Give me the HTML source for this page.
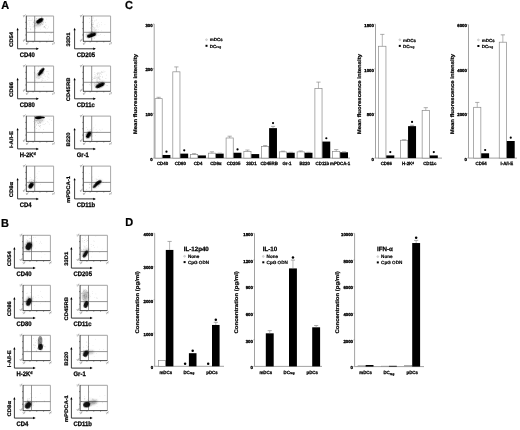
<!DOCTYPE html>
<html><head><meta charset="utf-8"><title>Figure</title>
<style>
html,body{margin:0;padding:0;background:#fff;width:520px;height:430px;overflow:hidden}
svg{display:block;will-change:transform;text-rendering:geometricPrecision;font-family:"Liberation Sans",sans-serif;font-weight:bold}
</style></head><body>
<svg width="520" height="430" viewBox="0 0 520 430">
<defs><filter id="b0_35" x="-50%" y="-50%" width="200%" height="200%"><feGaussianBlur stdDeviation="0.35"/></filter><filter id="b0_45" x="-50%" y="-50%" width="200%" height="200%"><feGaussianBlur stdDeviation="0.45"/></filter><filter id="b0_5" x="-50%" y="-50%" width="200%" height="200%"><feGaussianBlur stdDeviation="0.5"/></filter><filter id="b0_8" x="-50%" y="-50%" width="200%" height="200%"><feGaussianBlur stdDeviation="0.8"/></filter><filter id="b1_0" x="-50%" y="-50%" width="200%" height="200%"><feGaussianBlur stdDeviation="1.0"/></filter><filter id="b1_2" x="-50%" y="-50%" width="200%" height="200%"><feGaussianBlur stdDeviation="1.2"/></filter></defs>
<rect width="520" height="430" fill="#fff"/>
<text x="0" y="0" font-size="11.5" text-anchor="start" fill="#000" stroke="#000" stroke-width="0.23" transform="translate(1.2 9.2) scale(0.95 1)">A</text>
<text x="0" y="0" font-size="11.5" text-anchor="start" fill="#000" stroke="#000" stroke-width="0.23" transform="translate(0.9 227.1) scale(0.95 1)">B</text>
<text x="0" y="0" font-size="11.5" text-anchor="start" fill="#000" stroke="#000" stroke-width="0.23" transform="translate(125 8.6) scale(0.95 1)">C</text>
<text x="0" y="0" font-size="11.5" text-anchor="start" fill="#000" stroke="#000" stroke-width="0.23" transform="translate(125.2 226.4) scale(0.95 1)">D</text>
<line x1="26.3" y1="16" x2="53.6" y2="16" stroke="#8c8c8c" stroke-width="0.8"/>
<line x1="53.6" y1="16" x2="53.6" y2="41.3" stroke="#a8a8a8" stroke-width="1"/>
<line x1="26.3" y1="15.7" x2="26.3" y2="41.3" stroke="#333" stroke-width="0.9"/>
<line x1="26" y1="41.3" x2="53.6" y2="41.3" stroke="#333" stroke-width="0.9"/>
<line x1="25.3" y1="22.32" x2="26.3" y2="22.32" stroke="#444" stroke-width="0.7"/>
<line x1="33.12" y1="41.3" x2="33.12" y2="42.3" stroke="#444" stroke-width="0.7"/>
<line x1="25.3" y1="28.65" x2="26.3" y2="28.65" stroke="#444" stroke-width="0.7"/>
<line x1="39.95" y1="41.3" x2="39.95" y2="42.3" stroke="#444" stroke-width="0.7"/>
<line x1="25.3" y1="34.98" x2="26.3" y2="34.98" stroke="#444" stroke-width="0.7"/>
<line x1="46.78" y1="41.3" x2="46.78" y2="42.3" stroke="#444" stroke-width="0.7"/>
<line x1="34.7" y1="16" x2="34.7" y2="41.3" stroke="#666" stroke-width="0.7"/>
<line x1="26.3" y1="32.3" x2="53.6" y2="32.3" stroke="#666" stroke-width="0.7"/>
<text x="22.9" y="17.2" font-size="2.3" fill="#444" font-weight="normal" transform="rotate(-20 22.9 17.2)">10<tspan font-size="1.6" dy="-1">4</tspan></text>
<text x="22.9" y="41.8" font-size="2.3" fill="#444" font-weight="normal" transform="rotate(-20 22.9 41.8)">10<tspan font-size="1.6" dy="-1">0</tspan></text>
<text x="25.9" y="45" font-size="2.3" fill="#444" font-weight="normal" transform="rotate(-20 25.9 45)">10<tspan font-size="1.6" dy="-1">0</tspan></text>
<text x="52.2" y="45" font-size="2.3" fill="#444" font-weight="normal" transform="rotate(-20 52.2 45)">10<tspan font-size="1.6" dy="-1">4</tspan></text>
<circle cx="36.01" cy="20.81" r="0.33" fill="#000" opacity="0.35"/>
<circle cx="32.79" cy="19" r="0.33" fill="#000" opacity="0.35"/>
<circle cx="41.45" cy="21.77" r="0.33" fill="#000" opacity="0.35"/>
<circle cx="39.94" cy="24.95" r="0.33" fill="#000" opacity="0.35"/>
<circle cx="45.97" cy="25.08" r="0.33" fill="#000" opacity="0.35"/>
<circle cx="39.6" cy="18.67" r="0.33" fill="#000" opacity="0.35"/>
<circle cx="34.54" cy="20.63" r="0.33" fill="#000" opacity="0.35"/>
<circle cx="40.4" cy="21.57" r="0.33" fill="#000" opacity="0.35"/>
<circle cx="39.01" cy="21.89" r="0.33" fill="#000" opacity="0.35"/>
<circle cx="35.75" cy="23.67" r="0.33" fill="#000" opacity="0.35"/>
<circle cx="38.46" cy="24.38" r="0.33" fill="#000" opacity="0.35"/>
<circle cx="41.23" cy="23.47" r="0.33" fill="#000" opacity="0.35"/>
<circle cx="45.64" cy="28.05" r="0.33" fill="#000" opacity="0.35"/>
<circle cx="40.54" cy="24.81" r="0.33" fill="#000" opacity="0.35"/>
<circle cx="33.2" cy="21.91" r="0.33" fill="#000" opacity="0.35"/>
<circle cx="41.88" cy="16.7" r="0.33" fill="#000" opacity="0.35"/>
<circle cx="46" cy="24.97" r="0.33" fill="#000" opacity="0.35"/>
<circle cx="36.18" cy="18.92" r="0.33" fill="#000" opacity="0.35"/>
<circle cx="44.78" cy="26.98" r="0.33" fill="#000" opacity="0.35"/>
<circle cx="37.81" cy="24.44" r="0.33" fill="#000" opacity="0.35"/>
<circle cx="44.15" cy="26.27" r="0.33" fill="#000" opacity="0.35"/>
<circle cx="36.02" cy="25.59" r="0.33" fill="#000" opacity="0.35"/>
<circle cx="39.27" cy="21.23" r="0.33" fill="#000" opacity="0.35"/>
<circle cx="38.08" cy="23.11" r="0.33" fill="#000" opacity="0.35"/>
<circle cx="42.66" cy="24.41" r="0.33" fill="#000" opacity="0.35"/>
<circle cx="43.98" cy="27.16" r="0.33" fill="#000" opacity="0.35"/>
<circle cx="43.02" cy="23.98" r="0.33" fill="#000" opacity="0.35"/>
<circle cx="43.25" cy="22.79" r="0.33" fill="#000" opacity="0.35"/>
<circle cx="38.88" cy="20.69" r="0.33" fill="#000" opacity="0.35"/>
<circle cx="38.47" cy="23.24" r="0.33" fill="#000" opacity="0.35"/>
<circle cx="34.33" cy="25.44" r="0.33" fill="#000" opacity="0.35"/>
<circle cx="39.94" cy="19.81" r="0.33" fill="#000" opacity="0.35"/>
<circle cx="44.1" cy="26.8" r="0.33" fill="#000" opacity="0.35"/>
<circle cx="28.41" cy="20.59" r="0.33" fill="#000" opacity="0.35"/>
<circle cx="35.3" cy="28.51" r="0.33" fill="#000" opacity="0.35"/>
<circle cx="40.47" cy="22.82" r="0.33" fill="#000" opacity="0.35"/>
<circle cx="39.82" cy="18.45" r="0.33" fill="#000" opacity="0.35"/>
<circle cx="36.64" cy="18.41" r="0.33" fill="#000" opacity="0.35"/>
<circle cx="39.5" cy="21.25" r="0.33" fill="#000" opacity="0.35"/>
<circle cx="45.67" cy="22.4" r="0.33" fill="#000" opacity="0.35"/>
<circle cx="31.53" cy="20.17" r="0.33" fill="#000" opacity="0.25"/>
<circle cx="32.27" cy="24.16" r="0.33" fill="#000" opacity="0.25"/>
<circle cx="34.78" cy="26.93" r="0.33" fill="#000" opacity="0.25"/>
<circle cx="30.91" cy="29.81" r="0.33" fill="#000" opacity="0.25"/>
<circle cx="30.48" cy="28.63" r="0.33" fill="#000" opacity="0.25"/>
<circle cx="29.34" cy="26.11" r="0.33" fill="#000" opacity="0.25"/>
<circle cx="29.11" cy="24.09" r="0.33" fill="#000" opacity="0.25"/>
<circle cx="30.54" cy="26.52" r="0.33" fill="#000" opacity="0.25"/>
<circle cx="28.16" cy="28.29" r="0.33" fill="#000" opacity="0.25"/>
<circle cx="34.77" cy="26.78" r="0.33" fill="#000" opacity="0.25"/>
<circle cx="30.65" cy="29.38" r="0.33" fill="#000" opacity="0.25"/>
<circle cx="36.12" cy="22.53" r="0.33" fill="#000" opacity="0.25"/>
<circle cx="30.58" cy="20.51" r="0.33" fill="#000" opacity="0.25"/>
<circle cx="33.89" cy="32.01" r="0.33" fill="#000" opacity="0.25"/>
<circle cx="33.23" cy="26.06" r="0.33" fill="#000" opacity="0.25"/>
<circle cx="33.24" cy="22.25" r="0.33" fill="#000" opacity="0.25"/>
<circle cx="33.72" cy="26.93" r="0.33" fill="#000" opacity="0.25"/>
<circle cx="29.41" cy="20.34" r="0.33" fill="#000" opacity="0.25"/>
<circle cx="29.26" cy="22.87" r="0.33" fill="#000" opacity="0.25"/>
<circle cx="29.26" cy="18.63" r="0.33" fill="#000" opacity="0.25"/>
<circle cx="32.08" cy="26.9" r="0.33" fill="#000" opacity="0.25"/>
<circle cx="27.75" cy="23.93" r="0.33" fill="#000" opacity="0.25"/>
<circle cx="33.03" cy="20.21" r="0.33" fill="#000" opacity="0.25"/>
<circle cx="33.61" cy="22.16" r="0.33" fill="#000" opacity="0.25"/>
<circle cx="47.69" cy="28.77" r="0.33" fill="#000" opacity="0.25"/>
<circle cx="46.87" cy="29.01" r="0.33" fill="#000" opacity="0.25"/>
<circle cx="44.9" cy="32.55" r="0.33" fill="#000" opacity="0.25"/>
<circle cx="44.57" cy="26.3" r="0.33" fill="#000" opacity="0.25"/>
<circle cx="40.44" cy="28.98" r="0.33" fill="#000" opacity="0.25"/>
<circle cx="45.39" cy="27.39" r="0.33" fill="#000" opacity="0.25"/>
<circle cx="49.42" cy="35.25" r="0.33" fill="#000" opacity="0.25"/>
<circle cx="48.72" cy="39" r="0.33" fill="#000" opacity="0.25"/>
<circle cx="45.5" cy="33.79" r="0.33" fill="#000" opacity="0.25"/>
<circle cx="51.48" cy="32.94" r="0.33" fill="#000" opacity="0.25"/>
<circle cx="50.95" cy="33.58" r="0.33" fill="#000" opacity="0.25"/>
<circle cx="46.75" cy="19.1" r="0.33" fill="#000" opacity="0.25"/>
<circle cx="48.55" cy="26.93" r="0.33" fill="#000" opacity="0.25"/>
<ellipse cx="38.8" cy="23" rx="5" ry="3" transform="rotate(-35 38.8 23)" fill="#000" opacity="0.22" filter="url(#b1_0)"/>
<ellipse cx="39.7" cy="20.7" rx="4.03" ry="2.02" transform="rotate(-32 39.7 20.7)" fill="#000" opacity="1" filter="url(#b0_35)"/>
<line x1="17.6" y1="29.2" x2="17.6" y2="48.8" stroke="#111" stroke-width="0.8"/>
<line x1="17.6" y1="48.8" x2="37.3" y2="48.8" stroke="#111" stroke-width="0.85"/>
<path d="M16.5 30.2 L17.6 27.8 L18.7 30.2 Z" fill="#000"/>
<path d="M36.3 47.55 L38.9 48.8 L36.3 50.05 Z" fill="#000"/>
<text x="0" y="0" font-size="5.9" text-anchor="middle" fill="#000" stroke="#000" stroke-width="0.24" transform="translate(12.2 39.4) rotate(-90) scale(1 0.88)" dominant-baseline="central">CD54</text>
<text x="0" y="0" font-size="6.6" text-anchor="start" fill="#000" stroke="#000" stroke-width="0.26" transform="translate(19.7 56.7) scale(0.9 1)">CD40</text>
<line x1="23.1" y1="235.3" x2="50.4" y2="235.3" stroke="#8c8c8c" stroke-width="0.8"/>
<line x1="50.4" y1="235.3" x2="50.4" y2="260.6" stroke="#a8a8a8" stroke-width="1"/>
<line x1="23.1" y1="235" x2="23.1" y2="260.6" stroke="#333" stroke-width="0.9"/>
<line x1="22.8" y1="260.6" x2="50.4" y2="260.6" stroke="#333" stroke-width="0.9"/>
<line x1="22.1" y1="241.62" x2="23.1" y2="241.62" stroke="#444" stroke-width="0.7"/>
<line x1="29.93" y1="260.6" x2="29.93" y2="261.6" stroke="#444" stroke-width="0.7"/>
<line x1="22.1" y1="247.95" x2="23.1" y2="247.95" stroke="#444" stroke-width="0.7"/>
<line x1="36.75" y1="260.6" x2="36.75" y2="261.6" stroke="#444" stroke-width="0.7"/>
<line x1="22.1" y1="254.28" x2="23.1" y2="254.28" stroke="#444" stroke-width="0.7"/>
<line x1="43.58" y1="260.6" x2="43.58" y2="261.6" stroke="#444" stroke-width="0.7"/>
<line x1="31.5" y1="235.3" x2="31.5" y2="260.6" stroke="#666" stroke-width="0.7"/>
<line x1="23.1" y1="251.6" x2="50.4" y2="251.6" stroke="#666" stroke-width="0.7"/>
<text x="19.7" y="236.5" font-size="2.3" fill="#444" font-weight="normal" transform="rotate(-20 19.7 236.5)">10<tspan font-size="1.6" dy="-1">4</tspan></text>
<text x="19.7" y="261.1" font-size="2.3" fill="#444" font-weight="normal" transform="rotate(-20 19.7 261.1)">10<tspan font-size="1.6" dy="-1">0</tspan></text>
<text x="22.7" y="264.3" font-size="2.3" fill="#444" font-weight="normal" transform="rotate(-20 22.7 264.3)">10<tspan font-size="1.6" dy="-1">0</tspan></text>
<text x="49" y="264.3" font-size="2.3" fill="#444" font-weight="normal" transform="rotate(-20 49 264.3)">10<tspan font-size="1.6" dy="-1">4</tspan></text>
<circle cx="29.65" cy="251.98" r="0.33" fill="#000" opacity="0.3"/>
<circle cx="28.15" cy="243.07" r="0.33" fill="#000" opacity="0.3"/>
<circle cx="26.67" cy="242.82" r="0.33" fill="#000" opacity="0.3"/>
<circle cx="27.55" cy="240.83" r="0.33" fill="#000" opacity="0.3"/>
<circle cx="29.73" cy="238.58" r="0.33" fill="#000" opacity="0.3"/>
<circle cx="27.84" cy="244.05" r="0.33" fill="#000" opacity="0.3"/>
<circle cx="26.62" cy="245.99" r="0.33" fill="#000" opacity="0.3"/>
<circle cx="27.99" cy="245.44" r="0.33" fill="#000" opacity="0.3"/>
<circle cx="27.78" cy="240.54" r="0.33" fill="#000" opacity="0.3"/>
<circle cx="30.53" cy="238.44" r="0.33" fill="#000" opacity="0.3"/>
<circle cx="27.96" cy="243.28" r="0.33" fill="#000" opacity="0.3"/>
<circle cx="27.83" cy="241.94" r="0.33" fill="#000" opacity="0.3"/>
<circle cx="30.31" cy="247.12" r="0.33" fill="#000" opacity="0.3"/>
<circle cx="27.47" cy="242.11" r="0.33" fill="#000" opacity="0.3"/>
<circle cx="25.01" cy="246.84" r="0.33" fill="#000" opacity="0.3"/>
<circle cx="31.97" cy="239.01" r="0.33" fill="#000" opacity="0.3"/>
<circle cx="27.14" cy="243.45" r="0.33" fill="#000" opacity="0.3"/>
<circle cx="27.65" cy="235.91" r="0.33" fill="#000" opacity="0.3"/>
<circle cx="25.19" cy="244.22" r="0.33" fill="#000" opacity="0.3"/>
<circle cx="28.73" cy="248.25" r="0.33" fill="#000" opacity="0.3"/>
<circle cx="26.82" cy="239.79" r="0.33" fill="#000" opacity="0.3"/>
<circle cx="33.16" cy="237.61" r="0.33" fill="#000" opacity="0.3"/>
<circle cx="31.08" cy="242.89" r="0.33" fill="#000" opacity="0.3"/>
<circle cx="26.02" cy="240.93" r="0.33" fill="#000" opacity="0.3"/>
<circle cx="35.11" cy="237.37" r="0.33" fill="#000" opacity="0.2"/>
<circle cx="40.63" cy="241.13" r="0.33" fill="#000" opacity="0.2"/>
<circle cx="35.83" cy="248.05" r="0.33" fill="#000" opacity="0.2"/>
<circle cx="36.68" cy="241.38" r="0.33" fill="#000" opacity="0.2"/>
<circle cx="29.68" cy="251.74" r="0.33" fill="#000" opacity="0.2"/>
<circle cx="32.42" cy="242.47" r="0.33" fill="#000" opacity="0.2"/>
<circle cx="39.31" cy="243.3" r="0.33" fill="#000" opacity="0.2"/>
<circle cx="40.81" cy="242.76" r="0.33" fill="#000" opacity="0.2"/>
<circle cx="41.79" cy="243.55" r="0.33" fill="#000" opacity="0.2"/>
<circle cx="44.94" cy="254.73" r="0.33" fill="#000" opacity="0.2"/>
<circle cx="41.76" cy="257.11" r="0.33" fill="#000" opacity="0.2"/>
<circle cx="41.75" cy="252.44" r="0.33" fill="#000" opacity="0.2"/>
<ellipse cx="28.8" cy="245.8" rx="3.6" ry="4.8" transform="rotate(25 28.8 245.8)" fill="#000" opacity="0.3" filter="url(#b1_0)"/>
<ellipse cx="28.8" cy="246.3" rx="2.91" ry="4.03" transform="rotate(25 28.8 246.3)" fill="#000" opacity="0.92" filter="url(#b0_45)"/>
<line x1="14.4" y1="248.5" x2="14.4" y2="268.1" stroke="#111" stroke-width="0.8"/>
<line x1="14.4" y1="268.1" x2="34.1" y2="268.1" stroke="#111" stroke-width="0.85"/>
<path d="M13.3 249.5 L14.4 247.1 L15.5 249.5 Z" fill="#000"/>
<path d="M33.1 266.85 L35.7 268.1 L33.1 269.35 Z" fill="#000"/>
<text x="0" y="0" font-size="5.9" text-anchor="middle" fill="#000" stroke="#000" stroke-width="0.24" transform="translate(9.9 258.7) rotate(-90) scale(1 0.88)" dominant-baseline="central">CD54</text>
<text x="0" y="0" font-size="6.6" text-anchor="start" fill="#000" stroke="#000" stroke-width="0.26" transform="translate(16.5 276) scale(0.9 1)">CD40</text>
<line x1="83.3" y1="16" x2="110.6" y2="16" stroke="#8c8c8c" stroke-width="0.8"/>
<line x1="110.6" y1="16" x2="110.6" y2="41.3" stroke="#a8a8a8" stroke-width="1"/>
<line x1="83.3" y1="15.7" x2="83.3" y2="41.3" stroke="#333" stroke-width="0.9"/>
<line x1="83" y1="41.3" x2="110.6" y2="41.3" stroke="#333" stroke-width="0.9"/>
<line x1="82.3" y1="22.32" x2="83.3" y2="22.32" stroke="#444" stroke-width="0.7"/>
<line x1="90.12" y1="41.3" x2="90.12" y2="42.3" stroke="#444" stroke-width="0.7"/>
<line x1="82.3" y1="28.65" x2="83.3" y2="28.65" stroke="#444" stroke-width="0.7"/>
<line x1="96.95" y1="41.3" x2="96.95" y2="42.3" stroke="#444" stroke-width="0.7"/>
<line x1="82.3" y1="34.98" x2="83.3" y2="34.98" stroke="#444" stroke-width="0.7"/>
<line x1="103.78" y1="41.3" x2="103.78" y2="42.3" stroke="#444" stroke-width="0.7"/>
<line x1="91.7" y1="16" x2="91.7" y2="41.3" stroke="#666" stroke-width="0.7"/>
<line x1="83.3" y1="32.3" x2="110.6" y2="32.3" stroke="#666" stroke-width="0.7"/>
<text x="79.9" y="17.2" font-size="2.3" fill="#444" font-weight="normal" transform="rotate(-20 79.9 17.2)">10<tspan font-size="1.6" dy="-1">4</tspan></text>
<text x="79.9" y="41.8" font-size="2.3" fill="#444" font-weight="normal" transform="rotate(-20 79.9 41.8)">10<tspan font-size="1.6" dy="-1">0</tspan></text>
<text x="82.9" y="45" font-size="2.3" fill="#444" font-weight="normal" transform="rotate(-20 82.9 45)">10<tspan font-size="1.6" dy="-1">0</tspan></text>
<text x="109.2" y="45" font-size="2.3" fill="#444" font-weight="normal" transform="rotate(-20 109.2 45)">10<tspan font-size="1.6" dy="-1">4</tspan></text>
<circle cx="91.28" cy="19.01" r="0.33" fill="#000" opacity="0.3"/>
<circle cx="93.21" cy="27.95" r="0.33" fill="#000" opacity="0.3"/>
<circle cx="90.26" cy="28.24" r="0.33" fill="#000" opacity="0.3"/>
<circle cx="93.2" cy="24.09" r="0.33" fill="#000" opacity="0.3"/>
<circle cx="92.03" cy="31.66" r="0.33" fill="#000" opacity="0.3"/>
<circle cx="92.59" cy="28.04" r="0.33" fill="#000" opacity="0.3"/>
<circle cx="92.64" cy="31.36" r="0.33" fill="#000" opacity="0.3"/>
<circle cx="91.9" cy="24.33" r="0.33" fill="#000" opacity="0.3"/>
<circle cx="92.34" cy="26.51" r="0.33" fill="#000" opacity="0.3"/>
<circle cx="91.38" cy="23.34" r="0.33" fill="#000" opacity="0.3"/>
<circle cx="97.98" cy="27.78" r="0.33" fill="#000" opacity="0.3"/>
<circle cx="92.59" cy="26.55" r="0.33" fill="#000" opacity="0.3"/>
<circle cx="92.73" cy="20.52" r="0.33" fill="#000" opacity="0.3"/>
<circle cx="97.48" cy="25.04" r="0.33" fill="#000" opacity="0.3"/>
<circle cx="95.94" cy="29.13" r="0.33" fill="#000" opacity="0.3"/>
<circle cx="94.33" cy="20.95" r="0.33" fill="#000" opacity="0.3"/>
<circle cx="89.93" cy="35.57" r="0.33" fill="#000" opacity="0.3"/>
<circle cx="93.17" cy="17.93" r="0.33" fill="#000" opacity="0.3"/>
<circle cx="94.25" cy="27.48" r="0.33" fill="#000" opacity="0.3"/>
<circle cx="91.4" cy="16.65" r="0.33" fill="#000" opacity="0.3"/>
<circle cx="94.35" cy="29.05" r="0.33" fill="#000" opacity="0.3"/>
<circle cx="93.19" cy="29.32" r="0.33" fill="#000" opacity="0.3"/>
<circle cx="90.28" cy="21" r="0.33" fill="#000" opacity="0.3"/>
<circle cx="92.11" cy="24.69" r="0.33" fill="#000" opacity="0.3"/>
<circle cx="96.06" cy="20.24" r="0.33" fill="#000" opacity="0.3"/>
<circle cx="91.85" cy="20.79" r="0.33" fill="#000" opacity="0.3"/>
<circle cx="91.33" cy="31.23" r="0.33" fill="#000" opacity="0.3"/>
<circle cx="92.14" cy="25.63" r="0.33" fill="#000" opacity="0.3"/>
<circle cx="91.34" cy="24.95" r="0.33" fill="#000" opacity="0.3"/>
<circle cx="96.09" cy="29.82" r="0.33" fill="#000" opacity="0.3"/>
<circle cx="94.54" cy="28.29" r="0.33" fill="#000" opacity="0.3"/>
<circle cx="89.83" cy="35.61" r="0.33" fill="#000" opacity="0.3"/>
<circle cx="89.04" cy="35.37" r="0.33" fill="#000" opacity="0.3"/>
<circle cx="93.09" cy="24.14" r="0.33" fill="#000" opacity="0.3"/>
<circle cx="96.58" cy="33.49" r="0.33" fill="#000" opacity="0.3"/>
<circle cx="93.02" cy="22.37" r="0.33" fill="#000" opacity="0.3"/>
<circle cx="89.72" cy="22.21" r="0.33" fill="#000" opacity="0.3"/>
<circle cx="89.73" cy="18.43" r="0.33" fill="#000" opacity="0.3"/>
<circle cx="95.08" cy="30.32" r="0.33" fill="#000" opacity="0.3"/>
<circle cx="94.04" cy="32.15" r="0.33" fill="#000" opacity="0.3"/>
<circle cx="97.8" cy="26.24" r="0.33" fill="#000" opacity="0.3"/>
<circle cx="90.83" cy="27.76" r="0.33" fill="#000" opacity="0.3"/>
<circle cx="90.95" cy="33.07" r="0.33" fill="#000" opacity="0.2"/>
<circle cx="93.61" cy="26.73" r="0.33" fill="#000" opacity="0.2"/>
<circle cx="96.97" cy="25.41" r="0.33" fill="#000" opacity="0.2"/>
<circle cx="101.72" cy="30.87" r="0.33" fill="#000" opacity="0.2"/>
<circle cx="95.22" cy="27.75" r="0.33" fill="#000" opacity="0.2"/>
<circle cx="96.67" cy="19.51" r="0.33" fill="#000" opacity="0.2"/>
<circle cx="93.31" cy="27.34" r="0.33" fill="#000" opacity="0.2"/>
<circle cx="98.14" cy="29.57" r="0.33" fill="#000" opacity="0.2"/>
<circle cx="92.15" cy="29.29" r="0.33" fill="#000" opacity="0.2"/>
<circle cx="101.56" cy="24.83" r="0.33" fill="#000" opacity="0.2"/>
<circle cx="98.58" cy="22.86" r="0.33" fill="#000" opacity="0.2"/>
<circle cx="99.25" cy="26.08" r="0.33" fill="#000" opacity="0.2"/>
<circle cx="104.25" cy="35.27" r="0.33" fill="#000" opacity="0.2"/>
<circle cx="104.92" cy="24.21" r="0.33" fill="#000" opacity="0.2"/>
<circle cx="99.25" cy="24.61" r="0.33" fill="#000" opacity="0.2"/>
<circle cx="101.7" cy="22.3" r="0.33" fill="#000" opacity="0.2"/>
<circle cx="96.54" cy="26.86" r="0.33" fill="#000" opacity="0.2"/>
<circle cx="96.84" cy="24.97" r="0.33" fill="#000" opacity="0.2"/>
<circle cx="97.12" cy="23.63" r="0.33" fill="#000" opacity="0.2"/>
<circle cx="94.18" cy="36.91" r="0.33" fill="#000" opacity="0.2"/>
<circle cx="91.57" cy="34.98" r="0.33" fill="#000" opacity="0.35"/>
<circle cx="90.4" cy="34.5" r="0.33" fill="#000" opacity="0.35"/>
<circle cx="91.02" cy="33.74" r="0.33" fill="#000" opacity="0.35"/>
<circle cx="91.86" cy="34.59" r="0.33" fill="#000" opacity="0.35"/>
<circle cx="85.62" cy="36.01" r="0.33" fill="#000" opacity="0.35"/>
<circle cx="100.44" cy="34.46" r="0.33" fill="#000" opacity="0.35"/>
<circle cx="89.26" cy="36.06" r="0.33" fill="#000" opacity="0.35"/>
<circle cx="98.38" cy="32.07" r="0.33" fill="#000" opacity="0.35"/>
<circle cx="92.1" cy="36.54" r="0.33" fill="#000" opacity="0.35"/>
<circle cx="94.59" cy="38.78" r="0.33" fill="#000" opacity="0.35"/>
<circle cx="90.76" cy="32.09" r="0.33" fill="#000" opacity="0.35"/>
<circle cx="98.95" cy="35.51" r="0.33" fill="#000" opacity="0.35"/>
<circle cx="86.64" cy="33.93" r="0.33" fill="#000" opacity="0.35"/>
<circle cx="87.67" cy="34.99" r="0.33" fill="#000" opacity="0.35"/>
<circle cx="85.94" cy="34.6" r="0.33" fill="#000" opacity="0.35"/>
<circle cx="87.39" cy="35.67" r="0.33" fill="#000" opacity="0.35"/>
<circle cx="87.74" cy="35.42" r="0.33" fill="#000" opacity="0.35"/>
<circle cx="92.77" cy="32.9" r="0.33" fill="#000" opacity="0.35"/>
<circle cx="88.14" cy="34.6" r="0.33" fill="#000" opacity="0.35"/>
<ellipse cx="91.9" cy="34.6" rx="5.5" ry="2.8" transform="rotate(-20 91.9 34.6)" fill="#000" opacity="0.22" filter="url(#b1_0)"/>
<ellipse cx="91.5" cy="35.2" rx="4.82" ry="1.9" transform="rotate(-20 91.5 35.2)" fill="#000" opacity="1" filter="url(#b0_35)"/>
<line x1="74.6" y1="29.2" x2="74.6" y2="48.8" stroke="#111" stroke-width="0.8"/>
<line x1="74.6" y1="48.8" x2="94.3" y2="48.8" stroke="#111" stroke-width="0.85"/>
<path d="M73.5 30.2 L74.6 27.8 L75.7 30.2 Z" fill="#000"/>
<path d="M93.3 47.55 L95.9 48.8 L93.3 50.05 Z" fill="#000"/>
<text x="0" y="0" font-size="5.9" text-anchor="middle" fill="#000" stroke="#000" stroke-width="0.24" transform="translate(69.2 39.4) rotate(-90) scale(1 0.88)" dominant-baseline="central">33D1</text>
<text x="0" y="0" font-size="6.6" text-anchor="start" fill="#000" stroke="#000" stroke-width="0.26" transform="translate(76.7 56.7) scale(0.9 1)">CD205</text>
<line x1="80.1" y1="235.3" x2="107.4" y2="235.3" stroke="#8c8c8c" stroke-width="0.8"/>
<line x1="107.4" y1="235.3" x2="107.4" y2="260.6" stroke="#a8a8a8" stroke-width="1"/>
<line x1="80.1" y1="235" x2="80.1" y2="260.6" stroke="#333" stroke-width="0.9"/>
<line x1="79.8" y1="260.6" x2="107.4" y2="260.6" stroke="#333" stroke-width="0.9"/>
<line x1="79.1" y1="241.62" x2="80.1" y2="241.62" stroke="#444" stroke-width="0.7"/>
<line x1="86.92" y1="260.6" x2="86.92" y2="261.6" stroke="#444" stroke-width="0.7"/>
<line x1="79.1" y1="247.95" x2="80.1" y2="247.95" stroke="#444" stroke-width="0.7"/>
<line x1="93.75" y1="260.6" x2="93.75" y2="261.6" stroke="#444" stroke-width="0.7"/>
<line x1="79.1" y1="254.28" x2="80.1" y2="254.28" stroke="#444" stroke-width="0.7"/>
<line x1="100.57" y1="260.6" x2="100.57" y2="261.6" stroke="#444" stroke-width="0.7"/>
<line x1="88.5" y1="235.3" x2="88.5" y2="260.6" stroke="#666" stroke-width="0.7"/>
<line x1="80.1" y1="251.6" x2="107.4" y2="251.6" stroke="#666" stroke-width="0.7"/>
<text x="76.7" y="236.5" font-size="2.3" fill="#444" font-weight="normal" transform="rotate(-20 76.7 236.5)">10<tspan font-size="1.6" dy="-1">4</tspan></text>
<text x="76.7" y="261.1" font-size="2.3" fill="#444" font-weight="normal" transform="rotate(-20 76.7 261.1)">10<tspan font-size="1.6" dy="-1">0</tspan></text>
<text x="79.7" y="264.3" font-size="2.3" fill="#444" font-weight="normal" transform="rotate(-20 79.7 264.3)">10<tspan font-size="1.6" dy="-1">0</tspan></text>
<text x="106" y="264.3" font-size="2.3" fill="#444" font-weight="normal" transform="rotate(-20 106 264.3)">10<tspan font-size="1.6" dy="-1">4</tspan></text>
<circle cx="85.81" cy="251.1" r="0.33" fill="#000" opacity="0.25"/>
<circle cx="83.98" cy="245.74" r="0.33" fill="#000" opacity="0.25"/>
<circle cx="87.42" cy="240.3" r="0.33" fill="#000" opacity="0.25"/>
<circle cx="86.64" cy="241.68" r="0.33" fill="#000" opacity="0.25"/>
<circle cx="82.17" cy="240.8" r="0.33" fill="#000" opacity="0.25"/>
<circle cx="87.94" cy="238.49" r="0.33" fill="#000" opacity="0.25"/>
<circle cx="84.49" cy="252.3" r="0.33" fill="#000" opacity="0.25"/>
<circle cx="84.92" cy="247.71" r="0.33" fill="#000" opacity="0.25"/>
<circle cx="83.82" cy="249.95" r="0.33" fill="#000" opacity="0.25"/>
<circle cx="86.07" cy="239.38" r="0.33" fill="#000" opacity="0.25"/>
<circle cx="91.07" cy="244.35" r="0.33" fill="#000" opacity="0.25"/>
<circle cx="84.75" cy="240.55" r="0.33" fill="#000" opacity="0.25"/>
<circle cx="88.17" cy="255.07" r="0.33" fill="#000" opacity="0.25"/>
<circle cx="82.68" cy="238.44" r="0.33" fill="#000" opacity="0.25"/>
<circle cx="84.31" cy="240.33" r="0.33" fill="#000" opacity="0.25"/>
<circle cx="82.97" cy="241.94" r="0.33" fill="#000" opacity="0.25"/>
<circle cx="87.78" cy="253.02" r="0.33" fill="#000" opacity="0.25"/>
<circle cx="84.08" cy="246.82" r="0.33" fill="#000" opacity="0.25"/>
<circle cx="81.68" cy="249.3" r="0.33" fill="#000" opacity="0.25"/>
<circle cx="85.16" cy="236.82" r="0.33" fill="#000" opacity="0.25"/>
<circle cx="84.77" cy="242.74" r="0.33" fill="#000" opacity="0.25"/>
<circle cx="87.18" cy="240.62" r="0.33" fill="#000" opacity="0.25"/>
<circle cx="82.16" cy="250.18" r="0.33" fill="#000" opacity="0.25"/>
<circle cx="85" cy="246.67" r="0.33" fill="#000" opacity="0.25"/>
<circle cx="86.5" cy="245.37" r="0.33" fill="#000" opacity="0.25"/>
<circle cx="81.58" cy="250.4" r="0.33" fill="#000" opacity="0.25"/>
<circle cx="83.3" cy="249.08" r="0.33" fill="#000" opacity="0.25"/>
<circle cx="99.86" cy="252.45" r="0.33" fill="#000" opacity="0.2"/>
<circle cx="91.3" cy="256.95" r="0.33" fill="#000" opacity="0.2"/>
<circle cx="91.22" cy="246.24" r="0.33" fill="#000" opacity="0.2"/>
<circle cx="102.14" cy="248.97" r="0.33" fill="#000" opacity="0.2"/>
<circle cx="92.26" cy="252.12" r="0.33" fill="#000" opacity="0.2"/>
<circle cx="97.75" cy="247.03" r="0.33" fill="#000" opacity="0.2"/>
<circle cx="94.27" cy="241.13" r="0.33" fill="#000" opacity="0.2"/>
<circle cx="93.79" cy="240.88" r="0.33" fill="#000" opacity="0.2"/>
<circle cx="93.28" cy="245.31" r="0.33" fill="#000" opacity="0.2"/>
<circle cx="95.84" cy="236.72" r="0.33" fill="#000" opacity="0.2"/>
<circle cx="94.21" cy="247.39" r="0.33" fill="#000" opacity="0.2"/>
<circle cx="93.14" cy="245.05" r="0.33" fill="#000" opacity="0.2"/>
<ellipse cx="85.6" cy="252.8" rx="2.6" ry="5" transform="rotate(32 85.6 252.8)" fill="#000" opacity="0.22" filter="url(#b1_0)"/>
<ellipse cx="85.4" cy="254" rx="1.79" ry="4.03" transform="rotate(32 85.4 254)" fill="#000" opacity="0.92" filter="url(#b0_45)"/>
<line x1="71.4" y1="248.5" x2="71.4" y2="268.1" stroke="#111" stroke-width="0.8"/>
<line x1="71.4" y1="268.1" x2="91.1" y2="268.1" stroke="#111" stroke-width="0.85"/>
<path d="M70.3 249.5 L71.4 247.1 L72.5 249.5 Z" fill="#000"/>
<path d="M90.1 266.85 L92.7 268.1 L90.1 269.35 Z" fill="#000"/>
<text x="0" y="0" font-size="5.9" text-anchor="middle" fill="#000" stroke="#000" stroke-width="0.24" transform="translate(66.9 258.7) rotate(-90) scale(1 0.88)" dominant-baseline="central">33D1</text>
<text x="0" y="0" font-size="6.6" text-anchor="start" fill="#000" stroke="#000" stroke-width="0.26" transform="translate(73.5 276) scale(0.9 1)">CD205</text>
<line x1="26.3" y1="66" x2="53.6" y2="66" stroke="#8c8c8c" stroke-width="0.8"/>
<line x1="53.6" y1="66" x2="53.6" y2="91.3" stroke="#a8a8a8" stroke-width="1"/>
<line x1="26.3" y1="65.7" x2="26.3" y2="91.3" stroke="#333" stroke-width="0.9"/>
<line x1="26" y1="91.3" x2="53.6" y2="91.3" stroke="#333" stroke-width="0.9"/>
<line x1="25.3" y1="72.33" x2="26.3" y2="72.33" stroke="#444" stroke-width="0.7"/>
<line x1="33.12" y1="91.3" x2="33.12" y2="92.3" stroke="#444" stroke-width="0.7"/>
<line x1="25.3" y1="78.65" x2="26.3" y2="78.65" stroke="#444" stroke-width="0.7"/>
<line x1="39.95" y1="91.3" x2="39.95" y2="92.3" stroke="#444" stroke-width="0.7"/>
<line x1="25.3" y1="84.97" x2="26.3" y2="84.97" stroke="#444" stroke-width="0.7"/>
<line x1="46.78" y1="91.3" x2="46.78" y2="92.3" stroke="#444" stroke-width="0.7"/>
<line x1="34.7" y1="66" x2="34.7" y2="91.3" stroke="#666" stroke-width="0.7"/>
<line x1="26.3" y1="82.3" x2="53.6" y2="82.3" stroke="#666" stroke-width="0.7"/>
<text x="22.9" y="67.2" font-size="2.3" fill="#444" font-weight="normal" transform="rotate(-20 22.9 67.2)">10<tspan font-size="1.6" dy="-1">4</tspan></text>
<text x="22.9" y="91.8" font-size="2.3" fill="#444" font-weight="normal" transform="rotate(-20 22.9 91.8)">10<tspan font-size="1.6" dy="-1">0</tspan></text>
<text x="25.9" y="95" font-size="2.3" fill="#444" font-weight="normal" transform="rotate(-20 25.9 95)">10<tspan font-size="1.6" dy="-1">0</tspan></text>
<text x="52.2" y="95" font-size="2.3" fill="#444" font-weight="normal" transform="rotate(-20 52.2 95)">10<tspan font-size="1.6" dy="-1">4</tspan></text>
<circle cx="39.31" cy="78.75" r="0.33" fill="#000" opacity="0.3"/>
<circle cx="46.93" cy="71.7" r="0.33" fill="#000" opacity="0.3"/>
<circle cx="39.57" cy="70.43" r="0.33" fill="#000" opacity="0.3"/>
<circle cx="41.96" cy="79.94" r="0.33" fill="#000" opacity="0.3"/>
<circle cx="38.66" cy="66.8" r="0.33" fill="#000" opacity="0.3"/>
<circle cx="37.74" cy="82.99" r="0.33" fill="#000" opacity="0.3"/>
<circle cx="35.05" cy="80.3" r="0.33" fill="#000" opacity="0.3"/>
<circle cx="42.99" cy="69.85" r="0.33" fill="#000" opacity="0.3"/>
<circle cx="43.81" cy="73.3" r="0.33" fill="#000" opacity="0.3"/>
<circle cx="39.52" cy="72.31" r="0.33" fill="#000" opacity="0.3"/>
<circle cx="40.03" cy="75.56" r="0.33" fill="#000" opacity="0.3"/>
<circle cx="44.24" cy="74.2" r="0.33" fill="#000" opacity="0.3"/>
<circle cx="36.87" cy="74.52" r="0.33" fill="#000" opacity="0.3"/>
<circle cx="48.23" cy="73.34" r="0.33" fill="#000" opacity="0.3"/>
<circle cx="38.52" cy="75.45" r="0.33" fill="#000" opacity="0.3"/>
<circle cx="45.18" cy="76.78" r="0.33" fill="#000" opacity="0.3"/>
<circle cx="42.78" cy="73.34" r="0.33" fill="#000" opacity="0.3"/>
<circle cx="37.72" cy="73.67" r="0.33" fill="#000" opacity="0.3"/>
<circle cx="39.66" cy="74.14" r="0.33" fill="#000" opacity="0.3"/>
<circle cx="38.96" cy="73.79" r="0.33" fill="#000" opacity="0.3"/>
<circle cx="39.38" cy="72.28" r="0.33" fill="#000" opacity="0.3"/>
<circle cx="37.35" cy="70.41" r="0.33" fill="#000" opacity="0.3"/>
<circle cx="41.61" cy="73.75" r="0.33" fill="#000" opacity="0.3"/>
<circle cx="39.57" cy="70.6" r="0.33" fill="#000" opacity="0.3"/>
<circle cx="48.08" cy="77.58" r="0.33" fill="#000" opacity="0.3"/>
<circle cx="41.07" cy="77.79" r="0.33" fill="#000" opacity="0.3"/>
<circle cx="35.02" cy="73.87" r="0.33" fill="#000" opacity="0.3"/>
<circle cx="41.68" cy="73.02" r="0.33" fill="#000" opacity="0.3"/>
<circle cx="38.36" cy="78.75" r="0.33" fill="#000" opacity="0.3"/>
<circle cx="42.75" cy="73" r="0.33" fill="#000" opacity="0.3"/>
<circle cx="36.37" cy="77.26" r="0.33" fill="#000" opacity="0.3"/>
<circle cx="34.17" cy="72.66" r="0.33" fill="#000" opacity="0.3"/>
<circle cx="48.91" cy="74.79" r="0.33" fill="#000" opacity="0.3"/>
<circle cx="48.02" cy="71.3" r="0.33" fill="#000" opacity="0.25"/>
<circle cx="42.94" cy="80.23" r="0.33" fill="#000" opacity="0.25"/>
<circle cx="45.06" cy="80.36" r="0.33" fill="#000" opacity="0.25"/>
<circle cx="47.34" cy="76.06" r="0.33" fill="#000" opacity="0.25"/>
<circle cx="40.68" cy="72.45" r="0.33" fill="#000" opacity="0.25"/>
<circle cx="41.47" cy="81.6" r="0.33" fill="#000" opacity="0.25"/>
<circle cx="42.87" cy="68.28" r="0.33" fill="#000" opacity="0.25"/>
<circle cx="49.05" cy="78.03" r="0.33" fill="#000" opacity="0.25"/>
<circle cx="43.12" cy="78.64" r="0.33" fill="#000" opacity="0.25"/>
<circle cx="44" cy="75.19" r="0.33" fill="#000" opacity="0.25"/>
<circle cx="42.69" cy="77.93" r="0.33" fill="#000" opacity="0.25"/>
<circle cx="40.12" cy="76.97" r="0.33" fill="#000" opacity="0.25"/>
<circle cx="42.11" cy="80.01" r="0.33" fill="#000" opacity="0.25"/>
<circle cx="43.89" cy="86.85" r="0.33" fill="#000" opacity="0.25"/>
<circle cx="47.81" cy="79.51" r="0.33" fill="#000" opacity="0.25"/>
<ellipse cx="39.8" cy="74" rx="5.5" ry="2.2" transform="rotate(-55 39.8 74)" fill="#000" opacity="0.2" filter="url(#b1_0)"/>
<ellipse cx="41.2" cy="71.8" rx="4.7" ry="1.68" transform="rotate(-52 41.2 71.8)" fill="#000" opacity="1" filter="url(#b0_35)"/>
<line x1="17.6" y1="79.2" x2="17.6" y2="98.8" stroke="#111" stroke-width="0.8"/>
<line x1="17.6" y1="98.8" x2="37.3" y2="98.8" stroke="#111" stroke-width="0.85"/>
<path d="M16.5 80.2 L17.6 77.8 L18.7 80.2 Z" fill="#000"/>
<path d="M36.3 97.55 L38.9 98.8 L36.3 100.05 Z" fill="#000"/>
<text x="0" y="0" font-size="5.9" text-anchor="middle" fill="#000" stroke="#000" stroke-width="0.24" transform="translate(12.2 89.4) rotate(-90) scale(1 0.88)" dominant-baseline="central">CD86</text>
<text x="0" y="0" font-size="6.6" text-anchor="start" fill="#000" stroke="#000" stroke-width="0.26" transform="translate(19.7 106.7) scale(0.9 1)">CD80</text>
<line x1="23.1" y1="285.3" x2="50.4" y2="285.3" stroke="#8c8c8c" stroke-width="0.8"/>
<line x1="50.4" y1="285.3" x2="50.4" y2="310.6" stroke="#a8a8a8" stroke-width="1"/>
<line x1="23.1" y1="285" x2="23.1" y2="310.6" stroke="#333" stroke-width="0.9"/>
<line x1="22.8" y1="310.6" x2="50.4" y2="310.6" stroke="#333" stroke-width="0.9"/>
<line x1="22.1" y1="291.62" x2="23.1" y2="291.62" stroke="#444" stroke-width="0.7"/>
<line x1="29.93" y1="310.6" x2="29.93" y2="311.6" stroke="#444" stroke-width="0.7"/>
<line x1="22.1" y1="297.95" x2="23.1" y2="297.95" stroke="#444" stroke-width="0.7"/>
<line x1="36.75" y1="310.6" x2="36.75" y2="311.6" stroke="#444" stroke-width="0.7"/>
<line x1="22.1" y1="304.28" x2="23.1" y2="304.28" stroke="#444" stroke-width="0.7"/>
<line x1="43.58" y1="310.6" x2="43.58" y2="311.6" stroke="#444" stroke-width="0.7"/>
<line x1="31.5" y1="285.3" x2="31.5" y2="310.6" stroke="#666" stroke-width="0.7"/>
<line x1="23.1" y1="301.6" x2="50.4" y2="301.6" stroke="#666" stroke-width="0.7"/>
<text x="19.7" y="286.5" font-size="2.3" fill="#444" font-weight="normal" transform="rotate(-20 19.7 286.5)">10<tspan font-size="1.6" dy="-1">4</tspan></text>
<text x="19.7" y="311.1" font-size="2.3" fill="#444" font-weight="normal" transform="rotate(-20 19.7 311.1)">10<tspan font-size="1.6" dy="-1">0</tspan></text>
<text x="22.7" y="314.3" font-size="2.3" fill="#444" font-weight="normal" transform="rotate(-20 22.7 314.3)">10<tspan font-size="1.6" dy="-1">0</tspan></text>
<text x="49" y="314.3" font-size="2.3" fill="#444" font-weight="normal" transform="rotate(-20 49 314.3)">10<tspan font-size="1.6" dy="-1">4</tspan></text>
<circle cx="29.34" cy="298.81" r="0.33" fill="#000" opacity="0.3"/>
<circle cx="30.99" cy="290.01" r="0.33" fill="#000" opacity="0.3"/>
<circle cx="28.36" cy="301.97" r="0.33" fill="#000" opacity="0.3"/>
<circle cx="30.11" cy="301.81" r="0.33" fill="#000" opacity="0.3"/>
<circle cx="28.68" cy="297.36" r="0.33" fill="#000" opacity="0.3"/>
<circle cx="25.97" cy="301.02" r="0.33" fill="#000" opacity="0.3"/>
<circle cx="27.08" cy="298.09" r="0.33" fill="#000" opacity="0.3"/>
<circle cx="28.92" cy="298.16" r="0.33" fill="#000" opacity="0.3"/>
<circle cx="31.65" cy="302.9" r="0.33" fill="#000" opacity="0.3"/>
<circle cx="28.42" cy="302.86" r="0.33" fill="#000" opacity="0.3"/>
<circle cx="30.48" cy="298.1" r="0.33" fill="#000" opacity="0.3"/>
<circle cx="31.39" cy="301.42" r="0.33" fill="#000" opacity="0.3"/>
<circle cx="32.42" cy="298.12" r="0.33" fill="#000" opacity="0.3"/>
<circle cx="28.38" cy="296.94" r="0.33" fill="#000" opacity="0.3"/>
<circle cx="28.47" cy="301.85" r="0.33" fill="#000" opacity="0.3"/>
<circle cx="27.05" cy="296.05" r="0.33" fill="#000" opacity="0.3"/>
<circle cx="27.38" cy="292.98" r="0.33" fill="#000" opacity="0.3"/>
<circle cx="32.6" cy="300.11" r="0.33" fill="#000" opacity="0.3"/>
<circle cx="26.71" cy="293.73" r="0.33" fill="#000" opacity="0.3"/>
<circle cx="30.24" cy="292.61" r="0.33" fill="#000" opacity="0.3"/>
<circle cx="45.44" cy="301.36" r="0.33" fill="#000" opacity="0.2"/>
<circle cx="36.65" cy="301.17" r="0.33" fill="#000" opacity="0.2"/>
<circle cx="38.79" cy="297.76" r="0.33" fill="#000" opacity="0.2"/>
<circle cx="38.08" cy="295.44" r="0.33" fill="#000" opacity="0.2"/>
<circle cx="35.79" cy="297.19" r="0.33" fill="#000" opacity="0.2"/>
<circle cx="40.55" cy="291.19" r="0.33" fill="#000" opacity="0.2"/>
<circle cx="42.4" cy="297.57" r="0.33" fill="#000" opacity="0.2"/>
<circle cx="34.62" cy="305.35" r="0.33" fill="#000" opacity="0.2"/>
<circle cx="33.31" cy="296.57" r="0.33" fill="#000" opacity="0.2"/>
<circle cx="41.56" cy="296.6" r="0.33" fill="#000" opacity="0.2"/>
<circle cx="33.79" cy="298.01" r="0.33" fill="#000" opacity="0.2"/>
<circle cx="40.56" cy="303.25" r="0.33" fill="#000" opacity="0.2"/>
<ellipse cx="28.9" cy="301.3" rx="3" ry="4.8" transform="rotate(22 28.9 301.3)" fill="#000" opacity="0.25" filter="url(#b1_0)"/>
<ellipse cx="28.8" cy="302" rx="2.35" ry="4.03" transform="rotate(22 28.8 302)" fill="#000" opacity="0.92" filter="url(#b0_45)"/>
<line x1="14.4" y1="298.5" x2="14.4" y2="318.1" stroke="#111" stroke-width="0.8"/>
<line x1="14.4" y1="318.1" x2="34.1" y2="318.1" stroke="#111" stroke-width="0.85"/>
<path d="M13.3 299.5 L14.4 297.1 L15.5 299.5 Z" fill="#000"/>
<path d="M33.1 316.85 L35.7 318.1 L33.1 319.35 Z" fill="#000"/>
<text x="0" y="0" font-size="5.9" text-anchor="middle" fill="#000" stroke="#000" stroke-width="0.24" transform="translate(9.9 308.7) rotate(-90) scale(1 0.88)" dominant-baseline="central">CD86</text>
<text x="0" y="0" font-size="6.6" text-anchor="start" fill="#000" stroke="#000" stroke-width="0.26" transform="translate(16.5 326) scale(0.9 1)">CD80</text>
<line x1="83.3" y1="66" x2="110.6" y2="66" stroke="#8c8c8c" stroke-width="0.8"/>
<line x1="110.6" y1="66" x2="110.6" y2="91.3" stroke="#a8a8a8" stroke-width="1"/>
<line x1="83.3" y1="65.7" x2="83.3" y2="91.3" stroke="#333" stroke-width="0.9"/>
<line x1="83" y1="91.3" x2="110.6" y2="91.3" stroke="#333" stroke-width="0.9"/>
<line x1="82.3" y1="72.33" x2="83.3" y2="72.33" stroke="#444" stroke-width="0.7"/>
<line x1="90.12" y1="91.3" x2="90.12" y2="92.3" stroke="#444" stroke-width="0.7"/>
<line x1="82.3" y1="78.65" x2="83.3" y2="78.65" stroke="#444" stroke-width="0.7"/>
<line x1="96.95" y1="91.3" x2="96.95" y2="92.3" stroke="#444" stroke-width="0.7"/>
<line x1="82.3" y1="84.97" x2="83.3" y2="84.97" stroke="#444" stroke-width="0.7"/>
<line x1="103.78" y1="91.3" x2="103.78" y2="92.3" stroke="#444" stroke-width="0.7"/>
<line x1="91.7" y1="66" x2="91.7" y2="91.3" stroke="#666" stroke-width="0.7"/>
<line x1="83.3" y1="82.3" x2="110.6" y2="82.3" stroke="#666" stroke-width="0.7"/>
<text x="79.9" y="67.2" font-size="2.3" fill="#444" font-weight="normal" transform="rotate(-20 79.9 67.2)">10<tspan font-size="1.6" dy="-1">4</tspan></text>
<text x="79.9" y="91.8" font-size="2.3" fill="#444" font-weight="normal" transform="rotate(-20 79.9 91.8)">10<tspan font-size="1.6" dy="-1">0</tspan></text>
<text x="82.9" y="95" font-size="2.3" fill="#444" font-weight="normal" transform="rotate(-20 82.9 95)">10<tspan font-size="1.6" dy="-1">0</tspan></text>
<text x="109.2" y="95" font-size="2.3" fill="#444" font-weight="normal" transform="rotate(-20 109.2 95)">10<tspan font-size="1.6" dy="-1">4</tspan></text>
<circle cx="99.53" cy="74.32" r="0.33" fill="#000" opacity="0.3"/>
<circle cx="104.97" cy="71.26" r="0.33" fill="#000" opacity="0.3"/>
<circle cx="99.34" cy="77.92" r="0.33" fill="#000" opacity="0.3"/>
<circle cx="94.83" cy="72.74" r="0.33" fill="#000" opacity="0.3"/>
<circle cx="98.97" cy="77.15" r="0.33" fill="#000" opacity="0.3"/>
<circle cx="96.12" cy="80.63" r="0.33" fill="#000" opacity="0.3"/>
<circle cx="99.93" cy="79.33" r="0.33" fill="#000" opacity="0.3"/>
<circle cx="95.38" cy="76.96" r="0.33" fill="#000" opacity="0.3"/>
<circle cx="99.35" cy="81.79" r="0.33" fill="#000" opacity="0.3"/>
<circle cx="100.66" cy="79" r="0.33" fill="#000" opacity="0.3"/>
<circle cx="100.22" cy="76.41" r="0.33" fill="#000" opacity="0.3"/>
<circle cx="97.42" cy="74.52" r="0.33" fill="#000" opacity="0.3"/>
<circle cx="102.49" cy="72.06" r="0.33" fill="#000" opacity="0.3"/>
<circle cx="96.51" cy="77.15" r="0.33" fill="#000" opacity="0.3"/>
<circle cx="99.32" cy="76.33" r="0.33" fill="#000" opacity="0.3"/>
<circle cx="97.37" cy="73.81" r="0.33" fill="#000" opacity="0.3"/>
<circle cx="96.54" cy="79.49" r="0.33" fill="#000" opacity="0.3"/>
<circle cx="98.12" cy="77.26" r="0.33" fill="#000" opacity="0.3"/>
<circle cx="98.37" cy="83.58" r="0.33" fill="#000" opacity="0.3"/>
<circle cx="97.69" cy="78.82" r="0.33" fill="#000" opacity="0.3"/>
<circle cx="95.22" cy="78.39" r="0.33" fill="#000" opacity="0.3"/>
<circle cx="94.61" cy="76.92" r="0.33" fill="#000" opacity="0.3"/>
<circle cx="101.33" cy="71.67" r="0.33" fill="#000" opacity="0.3"/>
<circle cx="106.53" cy="74.98" r="0.33" fill="#000" opacity="0.3"/>
<circle cx="97.46" cy="85.49" r="0.33" fill="#000" opacity="0.3"/>
<circle cx="99.18" cy="79.58" r="0.33" fill="#000" opacity="0.3"/>
<circle cx="102.71" cy="77.2" r="0.33" fill="#000" opacity="0.3"/>
<circle cx="102.39" cy="76.79" r="0.33" fill="#000" opacity="0.3"/>
<circle cx="97.71" cy="74.8" r="0.33" fill="#000" opacity="0.3"/>
<circle cx="97.56" cy="82.08" r="0.33" fill="#000" opacity="0.3"/>
<circle cx="97.69" cy="81.66" r="0.33" fill="#000" opacity="0.3"/>
<circle cx="97.51" cy="77.39" r="0.33" fill="#000" opacity="0.3"/>
<circle cx="97.77" cy="80.77" r="0.33" fill="#000" opacity="0.3"/>
<circle cx="96.88" cy="73.61" r="0.33" fill="#000" opacity="0.3"/>
<circle cx="99.44" cy="78.37" r="0.33" fill="#000" opacity="0.3"/>
<circle cx="97.63" cy="72.23" r="0.33" fill="#000" opacity="0.3"/>
<circle cx="92.43" cy="79.63" r="0.33" fill="#000" opacity="0.3"/>
<circle cx="98.65" cy="76.08" r="0.33" fill="#000" opacity="0.3"/>
<circle cx="96.18" cy="83.09" r="0.33" fill="#000" opacity="0.3"/>
<circle cx="98.95" cy="73.16" r="0.33" fill="#000" opacity="0.3"/>
<circle cx="99.27" cy="83.39" r="0.33" fill="#000" opacity="0.3"/>
<circle cx="94.79" cy="78.11" r="0.33" fill="#000" opacity="0.3"/>
<circle cx="92.81" cy="77.2" r="0.33" fill="#000" opacity="0.3"/>
<circle cx="103.85" cy="70.98" r="0.33" fill="#000" opacity="0.3"/>
<circle cx="101.52" cy="72.86" r="0.33" fill="#000" opacity="0.3"/>
<circle cx="97.64" cy="73.21" r="0.33" fill="#000" opacity="0.3"/>
<circle cx="102.06" cy="72.16" r="0.33" fill="#000" opacity="0.3"/>
<circle cx="94.57" cy="83.2" r="0.33" fill="#000" opacity="0.3"/>
<circle cx="94.62" cy="78.15" r="0.33" fill="#000" opacity="0.3"/>
<circle cx="95.12" cy="76.8" r="0.33" fill="#000" opacity="0.3"/>
<circle cx="98.86" cy="72.3" r="0.33" fill="#000" opacity="0.3"/>
<circle cx="99.82" cy="75.57" r="0.33" fill="#000" opacity="0.3"/>
<circle cx="96.84" cy="78.12" r="0.33" fill="#000" opacity="0.3"/>
<circle cx="94.94" cy="74.65" r="0.33" fill="#000" opacity="0.3"/>
<circle cx="95.96" cy="75.47" r="0.33" fill="#000" opacity="0.3"/>
<circle cx="98.68" cy="73.81" r="0.33" fill="#000" opacity="0.3"/>
<circle cx="100.11" cy="72.24" r="0.33" fill="#000" opacity="0.3"/>
<circle cx="99.56" cy="73.09" r="0.33" fill="#000" opacity="0.3"/>
<circle cx="98.71" cy="78.39" r="0.33" fill="#000" opacity="0.3"/>
<circle cx="93.39" cy="78.62" r="0.33" fill="#000" opacity="0.3"/>
<circle cx="97.12" cy="76.06" r="0.33" fill="#000" opacity="0.3"/>
<circle cx="105.93" cy="78.63" r="0.33" fill="#000" opacity="0.3"/>
<circle cx="96.75" cy="81.34" r="0.33" fill="#000" opacity="0.3"/>
<circle cx="97.8" cy="79.74" r="0.33" fill="#000" opacity="0.3"/>
<circle cx="100.27" cy="73.63" r="0.33" fill="#000" opacity="0.3"/>
<circle cx="98.85" cy="77.33" r="0.33" fill="#000" opacity="0.3"/>
<circle cx="103.93" cy="72.22" r="0.33" fill="#000" opacity="0.3"/>
<circle cx="101.16" cy="74.61" r="0.33" fill="#000" opacity="0.3"/>
<circle cx="94.89" cy="83.14" r="0.33" fill="#000" opacity="0.3"/>
<circle cx="98.02" cy="78.76" r="0.33" fill="#000" opacity="0.3"/>
<circle cx="98.81" cy="83.74" r="0.33" fill="#000" opacity="0.3"/>
<circle cx="94.57" cy="85.84" r="0.33" fill="#000" opacity="0.3"/>
<circle cx="99.67" cy="85.5" r="0.33" fill="#000" opacity="0.3"/>
<circle cx="95.57" cy="86.87" r="0.33" fill="#000" opacity="0.3"/>
<circle cx="102.79" cy="85.16" r="0.33" fill="#000" opacity="0.3"/>
<circle cx="93.29" cy="83.93" r="0.33" fill="#000" opacity="0.3"/>
<circle cx="101.02" cy="85.87" r="0.33" fill="#000" opacity="0.3"/>
<circle cx="106.31" cy="85.74" r="0.33" fill="#000" opacity="0.3"/>
<circle cx="98.18" cy="84.89" r="0.33" fill="#000" opacity="0.3"/>
<circle cx="90.19" cy="85.12" r="0.33" fill="#000" opacity="0.3"/>
<circle cx="98.08" cy="82.26" r="0.33" fill="#000" opacity="0.3"/>
<circle cx="90.3" cy="83.17" r="0.33" fill="#000" opacity="0.3"/>
<circle cx="96.16" cy="86.26" r="0.33" fill="#000" opacity="0.3"/>
<circle cx="95.04" cy="84.07" r="0.33" fill="#000" opacity="0.3"/>
<circle cx="94.99" cy="84.93" r="0.33" fill="#000" opacity="0.3"/>
<circle cx="107.45" cy="85.33" r="0.33" fill="#000" opacity="0.3"/>
<circle cx="98.54" cy="82.01" r="0.33" fill="#000" opacity="0.3"/>
<circle cx="103.41" cy="83.87" r="0.33" fill="#000" opacity="0.3"/>
<circle cx="89.8" cy="84.69" r="0.33" fill="#000" opacity="0.3"/>
<circle cx="101.47" cy="82.82" r="0.33" fill="#000" opacity="0.3"/>
<ellipse cx="99.8" cy="84.5" rx="5.5" ry="2.8" transform="rotate(-25 99.8 84.5)" fill="#000" opacity="0.2" filter="url(#b1_0)"/>
<ellipse cx="100.1" cy="85.2" rx="4.82" ry="2.02" transform="rotate(-25 100.1 85.2)" fill="#000" opacity="1" filter="url(#b0_35)"/>
<line x1="74.6" y1="79.2" x2="74.6" y2="98.8" stroke="#111" stroke-width="0.8"/>
<line x1="74.6" y1="98.8" x2="94.3" y2="98.8" stroke="#111" stroke-width="0.85"/>
<path d="M73.5 80.2 L74.6 77.8 L75.7 80.2 Z" fill="#000"/>
<path d="M93.3 97.55 L95.9 98.8 L93.3 100.05 Z" fill="#000"/>
<text x="0" y="0" font-size="5.9" text-anchor="middle" fill="#000" stroke="#000" stroke-width="0.24" transform="translate(69.2 89.4) rotate(-90) scale(1 0.88)" dominant-baseline="central">CD45RB</text>
<text x="0" y="0" font-size="6.6" text-anchor="start" fill="#000" stroke="#000" stroke-width="0.26" transform="translate(76.7 106.7) scale(0.9 1)">CD11c</text>
<line x1="80.1" y1="285.3" x2="107.4" y2="285.3" stroke="#8c8c8c" stroke-width="0.8"/>
<line x1="107.4" y1="285.3" x2="107.4" y2="310.6" stroke="#a8a8a8" stroke-width="1"/>
<line x1="80.1" y1="285" x2="80.1" y2="310.6" stroke="#333" stroke-width="0.9"/>
<line x1="79.8" y1="310.6" x2="107.4" y2="310.6" stroke="#333" stroke-width="0.9"/>
<line x1="79.1" y1="291.62" x2="80.1" y2="291.62" stroke="#444" stroke-width="0.7"/>
<line x1="86.92" y1="310.6" x2="86.92" y2="311.6" stroke="#444" stroke-width="0.7"/>
<line x1="79.1" y1="297.95" x2="80.1" y2="297.95" stroke="#444" stroke-width="0.7"/>
<line x1="93.75" y1="310.6" x2="93.75" y2="311.6" stroke="#444" stroke-width="0.7"/>
<line x1="79.1" y1="304.28" x2="80.1" y2="304.28" stroke="#444" stroke-width="0.7"/>
<line x1="100.57" y1="310.6" x2="100.57" y2="311.6" stroke="#444" stroke-width="0.7"/>
<line x1="88.5" y1="285.3" x2="88.5" y2="310.6" stroke="#666" stroke-width="0.7"/>
<line x1="80.1" y1="301.6" x2="107.4" y2="301.6" stroke="#666" stroke-width="0.7"/>
<text x="76.7" y="286.5" font-size="2.3" fill="#444" font-weight="normal" transform="rotate(-20 76.7 286.5)">10<tspan font-size="1.6" dy="-1">4</tspan></text>
<text x="76.7" y="311.1" font-size="2.3" fill="#444" font-weight="normal" transform="rotate(-20 76.7 311.1)">10<tspan font-size="1.6" dy="-1">0</tspan></text>
<text x="79.7" y="314.3" font-size="2.3" fill="#444" font-weight="normal" transform="rotate(-20 79.7 314.3)">10<tspan font-size="1.6" dy="-1">0</tspan></text>
<text x="106" y="314.3" font-size="2.3" fill="#444" font-weight="normal" transform="rotate(-20 106 314.3)">10<tspan font-size="1.6" dy="-1">4</tspan></text>
<circle cx="84.48" cy="300.23" r="0.33" fill="#000" opacity="0.3"/>
<circle cx="83.95" cy="295.63" r="0.33" fill="#000" opacity="0.3"/>
<circle cx="83.44" cy="291.07" r="0.33" fill="#000" opacity="0.3"/>
<circle cx="84.7" cy="295.92" r="0.33" fill="#000" opacity="0.3"/>
<circle cx="83.9" cy="290.49" r="0.33" fill="#000" opacity="0.3"/>
<circle cx="81.37" cy="293.31" r="0.33" fill="#000" opacity="0.3"/>
<circle cx="86.35" cy="292.46" r="0.33" fill="#000" opacity="0.3"/>
<circle cx="85.16" cy="294.76" r="0.33" fill="#000" opacity="0.3"/>
<circle cx="83.18" cy="299.8" r="0.33" fill="#000" opacity="0.3"/>
<circle cx="85.21" cy="289.46" r="0.33" fill="#000" opacity="0.3"/>
<circle cx="81.39" cy="293.15" r="0.33" fill="#000" opacity="0.3"/>
<circle cx="82.15" cy="298.85" r="0.33" fill="#000" opacity="0.3"/>
<circle cx="83.11" cy="296.11" r="0.33" fill="#000" opacity="0.3"/>
<circle cx="83.1" cy="289.12" r="0.33" fill="#000" opacity="0.3"/>
<circle cx="85.23" cy="296.87" r="0.33" fill="#000" opacity="0.3"/>
<circle cx="86.46" cy="295.57" r="0.33" fill="#000" opacity="0.3"/>
<circle cx="86.63" cy="294.24" r="0.33" fill="#000" opacity="0.3"/>
<circle cx="88.3" cy="292.69" r="0.33" fill="#000" opacity="0.3"/>
<circle cx="88.91" cy="295.47" r="0.33" fill="#000" opacity="0.3"/>
<circle cx="85.41" cy="303.88" r="0.33" fill="#000" opacity="0.3"/>
<circle cx="83.72" cy="299.78" r="0.33" fill="#000" opacity="0.3"/>
<circle cx="87.37" cy="288.03" r="0.33" fill="#000" opacity="0.3"/>
<circle cx="84.94" cy="297.15" r="0.33" fill="#000" opacity="0.3"/>
<circle cx="83.62" cy="302.94" r="0.33" fill="#000" opacity="0.3"/>
<circle cx="84.38" cy="295.29" r="0.33" fill="#000" opacity="0.3"/>
<circle cx="87.04" cy="292.93" r="0.33" fill="#000" opacity="0.3"/>
<circle cx="84.34" cy="290.23" r="0.33" fill="#000" opacity="0.3"/>
<circle cx="88.01" cy="293.79" r="0.33" fill="#000" opacity="0.3"/>
<circle cx="85.21" cy="298.46" r="0.33" fill="#000" opacity="0.3"/>
<circle cx="84.34" cy="295.28" r="0.33" fill="#000" opacity="0.3"/>
<circle cx="82.24" cy="293.62" r="0.33" fill="#000" opacity="0.3"/>
<circle cx="86.52" cy="296.27" r="0.33" fill="#000" opacity="0.3"/>
<circle cx="84.61" cy="297.92" r="0.33" fill="#000" opacity="0.3"/>
<circle cx="87.04" cy="291.95" r="0.33" fill="#000" opacity="0.3"/>
<circle cx="82.83" cy="292.52" r="0.33" fill="#000" opacity="0.3"/>
<circle cx="83.92" cy="301.9" r="0.33" fill="#000" opacity="0.3"/>
<circle cx="83.91" cy="293.71" r="0.33" fill="#000" opacity="0.3"/>
<circle cx="87.36" cy="292.4" r="0.33" fill="#000" opacity="0.3"/>
<circle cx="84.52" cy="294.27" r="0.33" fill="#000" opacity="0.3"/>
<circle cx="82.25" cy="295.85" r="0.33" fill="#000" opacity="0.3"/>
<circle cx="87.53" cy="292.64" r="0.33" fill="#000" opacity="0.3"/>
<circle cx="86.29" cy="290.63" r="0.33" fill="#000" opacity="0.3"/>
<circle cx="86.53" cy="296.16" r="0.33" fill="#000" opacity="0.3"/>
<circle cx="82.95" cy="297.56" r="0.33" fill="#000" opacity="0.3"/>
<circle cx="84.97" cy="301.55" r="0.33" fill="#000" opacity="0.3"/>
<circle cx="88.78" cy="297.64" r="0.33" fill="#000" opacity="0.3"/>
<circle cx="83.45" cy="291.48" r="0.33" fill="#000" opacity="0.3"/>
<circle cx="86.78" cy="297.11" r="0.33" fill="#000" opacity="0.3"/>
<circle cx="84.23" cy="289.96" r="0.33" fill="#000" opacity="0.3"/>
<circle cx="83.6" cy="295.83" r="0.33" fill="#000" opacity="0.3"/>
<circle cx="89.34" cy="299.02" r="0.33" fill="#000" opacity="0.2"/>
<circle cx="95.92" cy="293.93" r="0.33" fill="#000" opacity="0.2"/>
<circle cx="84.64" cy="296.13" r="0.33" fill="#000" opacity="0.2"/>
<circle cx="96.64" cy="298.23" r="0.33" fill="#000" opacity="0.2"/>
<circle cx="92.32" cy="291.74" r="0.33" fill="#000" opacity="0.2"/>
<circle cx="101.95" cy="289.47" r="0.33" fill="#000" opacity="0.2"/>
<circle cx="97.61" cy="298.2" r="0.33" fill="#000" opacity="0.2"/>
<circle cx="88.56" cy="297.1" r="0.33" fill="#000" opacity="0.2"/>
<circle cx="96.83" cy="297.33" r="0.33" fill="#000" opacity="0.2"/>
<circle cx="90.56" cy="296.71" r="0.33" fill="#000" opacity="0.2"/>
<circle cx="94.78" cy="297.27" r="0.33" fill="#000" opacity="0.2"/>
<circle cx="92.35" cy="293.42" r="0.33" fill="#000" opacity="0.2"/>
<ellipse cx="85.4" cy="295.8" rx="3.2" ry="5.5" transform="rotate(0 85.4 295.8)" fill="#000" opacity="0.28" filter="url(#b1_2)"/>
<ellipse cx="86.1" cy="304.4" rx="2.24" ry="3.58" transform="rotate(20 86.1 304.4)" fill="#000" opacity="0.92" filter="url(#b0_45)"/>
<line x1="71.4" y1="298.5" x2="71.4" y2="318.1" stroke="#111" stroke-width="0.8"/>
<line x1="71.4" y1="318.1" x2="91.1" y2="318.1" stroke="#111" stroke-width="0.85"/>
<path d="M70.3 299.5 L71.4 297.1 L72.5 299.5 Z" fill="#000"/>
<path d="M90.1 316.85 L92.7 318.1 L90.1 319.35 Z" fill="#000"/>
<text x="0" y="0" font-size="5.9" text-anchor="middle" fill="#000" stroke="#000" stroke-width="0.24" transform="translate(66.9 308.7) rotate(-90) scale(1 0.88)" dominant-baseline="central">CD45RB</text>
<text x="0" y="0" font-size="6.6" text-anchor="start" fill="#000" stroke="#000" stroke-width="0.26" transform="translate(73.5 326) scale(0.9 1)">CD11c</text>
<line x1="26.3" y1="116.1" x2="53.6" y2="116.1" stroke="#8c8c8c" stroke-width="0.8"/>
<line x1="53.6" y1="116.1" x2="53.6" y2="141.4" stroke="#a8a8a8" stroke-width="1"/>
<line x1="26.3" y1="115.8" x2="26.3" y2="141.4" stroke="#333" stroke-width="0.9"/>
<line x1="26" y1="141.4" x2="53.6" y2="141.4" stroke="#333" stroke-width="0.9"/>
<line x1="25.3" y1="122.42" x2="26.3" y2="122.42" stroke="#444" stroke-width="0.7"/>
<line x1="33.12" y1="141.4" x2="33.12" y2="142.4" stroke="#444" stroke-width="0.7"/>
<line x1="25.3" y1="128.75" x2="26.3" y2="128.75" stroke="#444" stroke-width="0.7"/>
<line x1="39.95" y1="141.4" x2="39.95" y2="142.4" stroke="#444" stroke-width="0.7"/>
<line x1="25.3" y1="135.07" x2="26.3" y2="135.07" stroke="#444" stroke-width="0.7"/>
<line x1="46.78" y1="141.4" x2="46.78" y2="142.4" stroke="#444" stroke-width="0.7"/>
<line x1="34.7" y1="116.1" x2="34.7" y2="141.4" stroke="#666" stroke-width="0.7"/>
<line x1="26.3" y1="132.4" x2="53.6" y2="132.4" stroke="#666" stroke-width="0.7"/>
<text x="22.9" y="117.3" font-size="2.3" fill="#444" font-weight="normal" transform="rotate(-20 22.9 117.3)">10<tspan font-size="1.6" dy="-1">4</tspan></text>
<text x="22.9" y="141.9" font-size="2.3" fill="#444" font-weight="normal" transform="rotate(-20 22.9 141.9)">10<tspan font-size="1.6" dy="-1">0</tspan></text>
<text x="25.9" y="145.1" font-size="2.3" fill="#444" font-weight="normal" transform="rotate(-20 25.9 145.1)">10<tspan font-size="1.6" dy="-1">0</tspan></text>
<text x="52.2" y="145.1" font-size="2.3" fill="#444" font-weight="normal" transform="rotate(-20 52.2 145.1)">10<tspan font-size="1.6" dy="-1">4</tspan></text>
<circle cx="40.76" cy="121.97" r="0.33" fill="#000" opacity="0.3"/>
<circle cx="35.41" cy="122.72" r="0.33" fill="#000" opacity="0.3"/>
<circle cx="39.54" cy="117.48" r="0.33" fill="#000" opacity="0.3"/>
<circle cx="36.18" cy="121.4" r="0.33" fill="#000" opacity="0.3"/>
<circle cx="37.19" cy="122.55" r="0.33" fill="#000" opacity="0.3"/>
<circle cx="36.53" cy="120.21" r="0.33" fill="#000" opacity="0.3"/>
<circle cx="35.01" cy="126.52" r="0.33" fill="#000" opacity="0.3"/>
<circle cx="36.24" cy="120.3" r="0.33" fill="#000" opacity="0.3"/>
<circle cx="39.1" cy="119.89" r="0.33" fill="#000" opacity="0.3"/>
<circle cx="37.55" cy="119.87" r="0.33" fill="#000" opacity="0.3"/>
<circle cx="36.73" cy="128.45" r="0.33" fill="#000" opacity="0.3"/>
<circle cx="37.16" cy="120.39" r="0.33" fill="#000" opacity="0.3"/>
<circle cx="40.35" cy="123.37" r="0.33" fill="#000" opacity="0.3"/>
<circle cx="41.63" cy="121" r="0.33" fill="#000" opacity="0.3"/>
<circle cx="34.68" cy="123.81" r="0.33" fill="#000" opacity="0.3"/>
<circle cx="38.88" cy="125.5" r="0.33" fill="#000" opacity="0.3"/>
<circle cx="40.65" cy="120.76" r="0.33" fill="#000" opacity="0.3"/>
<circle cx="33.54" cy="121.3" r="0.33" fill="#000" opacity="0.3"/>
<circle cx="40.08" cy="122.82" r="0.33" fill="#000" opacity="0.3"/>
<circle cx="38.89" cy="125.06" r="0.33" fill="#000" opacity="0.3"/>
<circle cx="39.41" cy="123.1" r="0.33" fill="#000" opacity="0.3"/>
<circle cx="43.06" cy="124.4" r="0.33" fill="#000" opacity="0.3"/>
<circle cx="40.82" cy="125.84" r="0.33" fill="#000" opacity="0.3"/>
<circle cx="35.26" cy="120.38" r="0.33" fill="#000" opacity="0.3"/>
<circle cx="34.36" cy="127.45" r="0.33" fill="#000" opacity="0.3"/>
<circle cx="42.63" cy="120.59" r="0.33" fill="#000" opacity="0.3"/>
<circle cx="40.8" cy="122.76" r="0.33" fill="#000" opacity="0.3"/>
<circle cx="38.33" cy="123.4" r="0.33" fill="#000" opacity="0.3"/>
<circle cx="36.49" cy="124.44" r="0.33" fill="#000" opacity="0.3"/>
<circle cx="38.99" cy="129.87" r="0.33" fill="#000" opacity="0.3"/>
<circle cx="42.55" cy="133.57" r="0.33" fill="#000" opacity="0.3"/>
<circle cx="36.29" cy="125.76" r="0.33" fill="#000" opacity="0.3"/>
<circle cx="39.45" cy="121.94" r="0.33" fill="#000" opacity="0.3"/>
<circle cx="40.41" cy="125.82" r="0.33" fill="#000" opacity="0.3"/>
<circle cx="39.58" cy="126.19" r="0.33" fill="#000" opacity="0.3"/>
<circle cx="39.25" cy="126.69" r="0.33" fill="#000" opacity="0.3"/>
<circle cx="38.23" cy="120.28" r="0.33" fill="#000" opacity="0.3"/>
<circle cx="39.6" cy="120.97" r="0.33" fill="#000" opacity="0.3"/>
<circle cx="40.03" cy="118.83" r="0.33" fill="#000" opacity="0.3"/>
<circle cx="35.95" cy="120.55" r="0.33" fill="#000" opacity="0.3"/>
<circle cx="37.52" cy="123.36" r="0.33" fill="#000" opacity="0.3"/>
<circle cx="43.44" cy="129.64" r="0.33" fill="#000" opacity="0.3"/>
<circle cx="43.8" cy="117.24" r="0.33" fill="#000" opacity="0.25"/>
<circle cx="44.8" cy="124.36" r="0.33" fill="#000" opacity="0.25"/>
<circle cx="51.27" cy="120.43" r="0.33" fill="#000" opacity="0.25"/>
<circle cx="43.26" cy="117.92" r="0.33" fill="#000" opacity="0.25"/>
<circle cx="48.05" cy="122.19" r="0.33" fill="#000" opacity="0.25"/>
<circle cx="38.45" cy="123.42" r="0.33" fill="#000" opacity="0.25"/>
<circle cx="49.23" cy="124.08" r="0.33" fill="#000" opacity="0.25"/>
<circle cx="39.45" cy="122.74" r="0.33" fill="#000" opacity="0.25"/>
<circle cx="42.05" cy="120.74" r="0.33" fill="#000" opacity="0.25"/>
<circle cx="45.27" cy="123.37" r="0.33" fill="#000" opacity="0.25"/>
<circle cx="40.73" cy="127.8" r="0.33" fill="#000" opacity="0.25"/>
<circle cx="47.19" cy="121.69" r="0.33" fill="#000" opacity="0.25"/>
<circle cx="49.82" cy="119.77" r="0.33" fill="#000" opacity="0.25"/>
<circle cx="41.82" cy="118.69" r="0.33" fill="#000" opacity="0.25"/>
<ellipse cx="39.8" cy="119.6" rx="4" ry="3" transform="rotate(-10 39.8 119.6)" fill="#000" opacity="0.18" filter="url(#b1_0)"/>
<ellipse cx="38.3" cy="117.7" rx="3.36" ry="1.46" transform="rotate(-3 38.3 117.7)" fill="#000" opacity="1" filter="url(#b0_35)"/>
<ellipse cx="41.8" cy="117.4" rx="3.14" ry="0.9" transform="rotate(0 41.8 117.4)" fill="#000" opacity="1" filter="url(#b0_35)"/>
<line x1="17.6" y1="129.3" x2="17.6" y2="148.9" stroke="#111" stroke-width="0.8"/>
<line x1="17.6" y1="148.9" x2="37.3" y2="148.9" stroke="#111" stroke-width="0.85"/>
<path d="M16.5 130.3 L17.6 127.9 L18.7 130.3 Z" fill="#000"/>
<path d="M36.3 147.65 L38.9 148.9 L36.3 150.15 Z" fill="#000"/>
<text x="0" y="0" font-size="5.9" text-anchor="middle" fill="#000" stroke="#000" stroke-width="0.24" transform="translate(12.2 139.5) rotate(-90) scale(1 0.88)" dominant-baseline="central">I-A/I-E</text>
<text x="0" y="0" font-size="6.6" text-anchor="start" fill="#000" stroke="#000" stroke-width="0.26" transform="translate(19.7 156.8) scale(0.9 1)">H-2K<tspan font-size="4" dy="-2">d</tspan></text>
<line x1="23.1" y1="335.3" x2="50.4" y2="335.3" stroke="#8c8c8c" stroke-width="0.8"/>
<line x1="50.4" y1="335.3" x2="50.4" y2="360.6" stroke="#a8a8a8" stroke-width="1"/>
<line x1="23.1" y1="335" x2="23.1" y2="360.6" stroke="#333" stroke-width="0.9"/>
<line x1="22.8" y1="360.6" x2="50.4" y2="360.6" stroke="#333" stroke-width="0.9"/>
<line x1="22.1" y1="341.62" x2="23.1" y2="341.62" stroke="#444" stroke-width="0.7"/>
<line x1="29.93" y1="360.6" x2="29.93" y2="361.6" stroke="#444" stroke-width="0.7"/>
<line x1="22.1" y1="347.95" x2="23.1" y2="347.95" stroke="#444" stroke-width="0.7"/>
<line x1="36.75" y1="360.6" x2="36.75" y2="361.6" stroke="#444" stroke-width="0.7"/>
<line x1="22.1" y1="354.28" x2="23.1" y2="354.28" stroke="#444" stroke-width="0.7"/>
<line x1="43.58" y1="360.6" x2="43.58" y2="361.6" stroke="#444" stroke-width="0.7"/>
<line x1="31.5" y1="335.3" x2="31.5" y2="360.6" stroke="#666" stroke-width="0.7"/>
<line x1="23.1" y1="351.6" x2="50.4" y2="351.6" stroke="#666" stroke-width="0.7"/>
<text x="19.7" y="336.5" font-size="2.3" fill="#444" font-weight="normal" transform="rotate(-20 19.7 336.5)">10<tspan font-size="1.6" dy="-1">4</tspan></text>
<text x="19.7" y="361.1" font-size="2.3" fill="#444" font-weight="normal" transform="rotate(-20 19.7 361.1)">10<tspan font-size="1.6" dy="-1">0</tspan></text>
<text x="22.7" y="364.3" font-size="2.3" fill="#444" font-weight="normal" transform="rotate(-20 22.7 364.3)">10<tspan font-size="1.6" dy="-1">0</tspan></text>
<text x="49" y="364.3" font-size="2.3" fill="#444" font-weight="normal" transform="rotate(-20 49 364.3)">10<tspan font-size="1.6" dy="-1">4</tspan></text>
<circle cx="43.28" cy="344.91" r="0.33" fill="#000" opacity="0.3"/>
<circle cx="41.67" cy="339.42" r="0.33" fill="#000" opacity="0.3"/>
<circle cx="38.49" cy="340.63" r="0.33" fill="#000" opacity="0.3"/>
<circle cx="39.52" cy="343.85" r="0.33" fill="#000" opacity="0.3"/>
<circle cx="40.7" cy="339.27" r="0.33" fill="#000" opacity="0.3"/>
<circle cx="40.63" cy="338.54" r="0.33" fill="#000" opacity="0.3"/>
<circle cx="39.34" cy="341.62" r="0.33" fill="#000" opacity="0.3"/>
<circle cx="40.36" cy="346.25" r="0.33" fill="#000" opacity="0.3"/>
<circle cx="37.8" cy="339.75" r="0.33" fill="#000" opacity="0.3"/>
<circle cx="35.26" cy="345.35" r="0.33" fill="#000" opacity="0.3"/>
<circle cx="45.14" cy="346.85" r="0.33" fill="#000" opacity="0.3"/>
<circle cx="33.44" cy="344.58" r="0.33" fill="#000" opacity="0.3"/>
<circle cx="41.29" cy="345.73" r="0.33" fill="#000" opacity="0.3"/>
<circle cx="38.84" cy="339.74" r="0.33" fill="#000" opacity="0.3"/>
<circle cx="40.37" cy="342.16" r="0.33" fill="#000" opacity="0.3"/>
<circle cx="41.83" cy="338.66" r="0.33" fill="#000" opacity="0.3"/>
<circle cx="40.89" cy="343.28" r="0.33" fill="#000" opacity="0.3"/>
<circle cx="39.94" cy="344.24" r="0.33" fill="#000" opacity="0.3"/>
<circle cx="36.65" cy="340.46" r="0.33" fill="#000" opacity="0.3"/>
<circle cx="35.73" cy="342.27" r="0.33" fill="#000" opacity="0.3"/>
<circle cx="39.55" cy="338.91" r="0.33" fill="#000" opacity="0.3"/>
<circle cx="39.58" cy="346.06" r="0.33" fill="#000" opacity="0.3"/>
<circle cx="33.37" cy="338.76" r="0.33" fill="#000" opacity="0.3"/>
<circle cx="44.82" cy="346.3" r="0.33" fill="#000" opacity="0.3"/>
<circle cx="40.44" cy="351.32" r="0.33" fill="#000" opacity="0.3"/>
<circle cx="40.55" cy="342.53" r="0.33" fill="#000" opacity="0.3"/>
<circle cx="40.09" cy="342.79" r="0.33" fill="#000" opacity="0.3"/>
<circle cx="44.93" cy="338.99" r="0.33" fill="#000" opacity="0.3"/>
<circle cx="34.53" cy="345.06" r="0.33" fill="#000" opacity="0.3"/>
<circle cx="33.77" cy="345.76" r="0.33" fill="#000" opacity="0.3"/>
<circle cx="40.18" cy="350.28" r="0.33" fill="#000" opacity="0.3"/>
<circle cx="40.64" cy="338.41" r="0.33" fill="#000" opacity="0.3"/>
<circle cx="38.47" cy="340.35" r="0.33" fill="#000" opacity="0.3"/>
<circle cx="40.52" cy="345.13" r="0.33" fill="#000" opacity="0.3"/>
<circle cx="37.39" cy="348.41" r="0.33" fill="#000" opacity="0.4"/>
<circle cx="34.44" cy="347.28" r="0.33" fill="#000" opacity="0.4"/>
<circle cx="36.23" cy="350.83" r="0.33" fill="#000" opacity="0.4"/>
<circle cx="27.08" cy="350.11" r="0.33" fill="#000" opacity="0.4"/>
<circle cx="38.34" cy="348.03" r="0.33" fill="#000" opacity="0.4"/>
<circle cx="36.7" cy="351.26" r="0.33" fill="#000" opacity="0.4"/>
<ellipse cx="40.1" cy="341.3" rx="2.3" ry="5.2" transform="rotate(3 40.1 341.3)" fill="#000" opacity="0.45" filter="url(#b0_7)"/>
<ellipse cx="40.5" cy="346.9" rx="2.46" ry="3.14" transform="rotate(10 40.5 346.9)" fill="#000" opacity="0.92" filter="url(#b0_45)"/>
<line x1="14.4" y1="348.5" x2="14.4" y2="368.1" stroke="#111" stroke-width="0.8"/>
<line x1="14.4" y1="368.1" x2="34.1" y2="368.1" stroke="#111" stroke-width="0.85"/>
<path d="M13.3 349.5 L14.4 347.1 L15.5 349.5 Z" fill="#000"/>
<path d="M33.1 366.85 L35.7 368.1 L33.1 369.35 Z" fill="#000"/>
<text x="0" y="0" font-size="5.9" text-anchor="middle" fill="#000" stroke="#000" stroke-width="0.24" transform="translate(9.9 358.7) rotate(-90) scale(1 0.88)" dominant-baseline="central">I-A/I-E</text>
<text x="0" y="0" font-size="6.6" text-anchor="start" fill="#000" stroke="#000" stroke-width="0.26" transform="translate(16.5 376) scale(0.9 1)">H-2K<tspan font-size="4" dy="-2">d</tspan></text>
<line x1="83.3" y1="116.1" x2="110.6" y2="116.1" stroke="#8c8c8c" stroke-width="0.8"/>
<line x1="110.6" y1="116.1" x2="110.6" y2="141.4" stroke="#a8a8a8" stroke-width="1"/>
<line x1="83.3" y1="115.8" x2="83.3" y2="141.4" stroke="#333" stroke-width="0.9"/>
<line x1="83" y1="141.4" x2="110.6" y2="141.4" stroke="#333" stroke-width="0.9"/>
<line x1="82.3" y1="122.42" x2="83.3" y2="122.42" stroke="#444" stroke-width="0.7"/>
<line x1="90.12" y1="141.4" x2="90.12" y2="142.4" stroke="#444" stroke-width="0.7"/>
<line x1="82.3" y1="128.75" x2="83.3" y2="128.75" stroke="#444" stroke-width="0.7"/>
<line x1="96.95" y1="141.4" x2="96.95" y2="142.4" stroke="#444" stroke-width="0.7"/>
<line x1="82.3" y1="135.07" x2="83.3" y2="135.07" stroke="#444" stroke-width="0.7"/>
<line x1="103.78" y1="141.4" x2="103.78" y2="142.4" stroke="#444" stroke-width="0.7"/>
<line x1="91.7" y1="116.1" x2="91.7" y2="141.4" stroke="#666" stroke-width="0.7"/>
<line x1="83.3" y1="132.4" x2="110.6" y2="132.4" stroke="#666" stroke-width="0.7"/>
<text x="79.9" y="117.3" font-size="2.3" fill="#444" font-weight="normal" transform="rotate(-20 79.9 117.3)">10<tspan font-size="1.6" dy="-1">4</tspan></text>
<text x="79.9" y="141.9" font-size="2.3" fill="#444" font-weight="normal" transform="rotate(-20 79.9 141.9)">10<tspan font-size="1.6" dy="-1">0</tspan></text>
<text x="82.9" y="145.1" font-size="2.3" fill="#444" font-weight="normal" transform="rotate(-20 82.9 145.1)">10<tspan font-size="1.6" dy="-1">0</tspan></text>
<text x="109.2" y="145.1" font-size="2.3" fill="#444" font-weight="normal" transform="rotate(-20 109.2 145.1)">10<tspan font-size="1.6" dy="-1">4</tspan></text>
<circle cx="90.22" cy="129.44" r="0.33" fill="#000" opacity="0.3"/>
<circle cx="87.68" cy="131.85" r="0.33" fill="#000" opacity="0.3"/>
<circle cx="92.24" cy="133.73" r="0.33" fill="#000" opacity="0.3"/>
<circle cx="89.54" cy="135.45" r="0.33" fill="#000" opacity="0.3"/>
<circle cx="86.17" cy="134.03" r="0.33" fill="#000" opacity="0.3"/>
<circle cx="85.5" cy="134.19" r="0.33" fill="#000" opacity="0.3"/>
<circle cx="92.78" cy="139.44" r="0.33" fill="#000" opacity="0.3"/>
<circle cx="88.06" cy="136.3" r="0.33" fill="#000" opacity="0.3"/>
<circle cx="88.51" cy="137.16" r="0.33" fill="#000" opacity="0.3"/>
<circle cx="90.34" cy="134.86" r="0.33" fill="#000" opacity="0.3"/>
<circle cx="91.72" cy="131.9" r="0.33" fill="#000" opacity="0.3"/>
<circle cx="91.01" cy="135.23" r="0.33" fill="#000" opacity="0.3"/>
<circle cx="87.28" cy="134.11" r="0.33" fill="#000" opacity="0.3"/>
<circle cx="91.55" cy="131.42" r="0.33" fill="#000" opacity="0.3"/>
<circle cx="92.06" cy="136.57" r="0.33" fill="#000" opacity="0.3"/>
<circle cx="86.19" cy="127.35" r="0.33" fill="#000" opacity="0.3"/>
<circle cx="93.02" cy="128.91" r="0.33" fill="#000" opacity="0.3"/>
<circle cx="87.76" cy="129.15" r="0.33" fill="#000" opacity="0.3"/>
<circle cx="90.65" cy="135.14" r="0.33" fill="#000" opacity="0.3"/>
<circle cx="92.13" cy="135.24" r="0.33" fill="#000" opacity="0.3"/>
<circle cx="102.09" cy="129.08" r="0.33" fill="#000" opacity="0.2"/>
<circle cx="91.53" cy="133.67" r="0.33" fill="#000" opacity="0.2"/>
<circle cx="93.92" cy="127.57" r="0.33" fill="#000" opacity="0.2"/>
<circle cx="99.36" cy="129.78" r="0.33" fill="#000" opacity="0.2"/>
<circle cx="97.39" cy="131.71" r="0.33" fill="#000" opacity="0.2"/>
<circle cx="96.1" cy="129.61" r="0.33" fill="#000" opacity="0.2"/>
<circle cx="95.74" cy="124.97" r="0.33" fill="#000" opacity="0.2"/>
<circle cx="96.72" cy="132.19" r="0.33" fill="#000" opacity="0.2"/>
<circle cx="100.82" cy="130.18" r="0.33" fill="#000" opacity="0.2"/>
<circle cx="95.34" cy="135.45" r="0.33" fill="#000" opacity="0.2"/>
<ellipse cx="88.8" cy="134.6" rx="2.6" ry="4" transform="rotate(30 88.8 134.6)" fill="#000" opacity="0.2" filter="url(#b1_0)"/>
<ellipse cx="88.6" cy="134.9" rx="2.02" ry="3.58" transform="rotate(30 88.6 134.9)" fill="#000" opacity="1" filter="url(#b0_35)"/>
<line x1="74.6" y1="129.3" x2="74.6" y2="148.9" stroke="#111" stroke-width="0.8"/>
<line x1="74.6" y1="148.9" x2="94.3" y2="148.9" stroke="#111" stroke-width="0.85"/>
<path d="M73.5 130.3 L74.6 127.9 L75.7 130.3 Z" fill="#000"/>
<path d="M93.3 147.65 L95.9 148.9 L93.3 150.15 Z" fill="#000"/>
<text x="0" y="0" font-size="5.9" text-anchor="middle" fill="#000" stroke="#000" stroke-width="0.24" transform="translate(69.2 139.5) rotate(-90) scale(1 0.88)" dominant-baseline="central">B220</text>
<text x="0" y="0" font-size="6.6" text-anchor="start" fill="#000" stroke="#000" stroke-width="0.26" transform="translate(76.7 156.8) scale(0.9 1)">Gr-1</text>
<line x1="80.1" y1="335.3" x2="107.4" y2="335.3" stroke="#8c8c8c" stroke-width="0.8"/>
<line x1="107.4" y1="335.3" x2="107.4" y2="360.6" stroke="#a8a8a8" stroke-width="1"/>
<line x1="80.1" y1="335" x2="80.1" y2="360.6" stroke="#333" stroke-width="0.9"/>
<line x1="79.8" y1="360.6" x2="107.4" y2="360.6" stroke="#333" stroke-width="0.9"/>
<line x1="79.1" y1="341.62" x2="80.1" y2="341.62" stroke="#444" stroke-width="0.7"/>
<line x1="86.92" y1="360.6" x2="86.92" y2="361.6" stroke="#444" stroke-width="0.7"/>
<line x1="79.1" y1="347.95" x2="80.1" y2="347.95" stroke="#444" stroke-width="0.7"/>
<line x1="93.75" y1="360.6" x2="93.75" y2="361.6" stroke="#444" stroke-width="0.7"/>
<line x1="79.1" y1="354.28" x2="80.1" y2="354.28" stroke="#444" stroke-width="0.7"/>
<line x1="100.57" y1="360.6" x2="100.57" y2="361.6" stroke="#444" stroke-width="0.7"/>
<line x1="88.5" y1="335.3" x2="88.5" y2="360.6" stroke="#666" stroke-width="0.7"/>
<line x1="80.1" y1="351.6" x2="107.4" y2="351.6" stroke="#666" stroke-width="0.7"/>
<text x="76.7" y="336.5" font-size="2.3" fill="#444" font-weight="normal" transform="rotate(-20 76.7 336.5)">10<tspan font-size="1.6" dy="-1">4</tspan></text>
<text x="76.7" y="361.1" font-size="2.3" fill="#444" font-weight="normal" transform="rotate(-20 76.7 361.1)">10<tspan font-size="1.6" dy="-1">0</tspan></text>
<text x="79.7" y="364.3" font-size="2.3" fill="#444" font-weight="normal" transform="rotate(-20 79.7 364.3)">10<tspan font-size="1.6" dy="-1">0</tspan></text>
<text x="106" y="364.3" font-size="2.3" fill="#444" font-weight="normal" transform="rotate(-20 106 364.3)">10<tspan font-size="1.6" dy="-1">4</tspan></text>
<circle cx="87.14" cy="346.98" r="0.33" fill="#000" opacity="0.3"/>
<circle cx="87.41" cy="351.83" r="0.33" fill="#000" opacity="0.3"/>
<circle cx="89.52" cy="352.95" r="0.33" fill="#000" opacity="0.3"/>
<circle cx="84.99" cy="351.7" r="0.33" fill="#000" opacity="0.3"/>
<circle cx="88.8" cy="357.49" r="0.33" fill="#000" opacity="0.3"/>
<circle cx="83.71" cy="350.1" r="0.33" fill="#000" opacity="0.3"/>
<circle cx="83.79" cy="347.05" r="0.33" fill="#000" opacity="0.3"/>
<circle cx="88.35" cy="346.69" r="0.33" fill="#000" opacity="0.3"/>
<circle cx="88.49" cy="349.67" r="0.33" fill="#000" opacity="0.3"/>
<circle cx="86.98" cy="350.94" r="0.33" fill="#000" opacity="0.3"/>
<circle cx="81.54" cy="353.5" r="0.33" fill="#000" opacity="0.3"/>
<circle cx="87.8" cy="350.47" r="0.33" fill="#000" opacity="0.3"/>
<circle cx="89.69" cy="351.36" r="0.33" fill="#000" opacity="0.3"/>
<circle cx="83.87" cy="350.93" r="0.33" fill="#000" opacity="0.3"/>
<circle cx="84.53" cy="352.77" r="0.33" fill="#000" opacity="0.3"/>
<circle cx="87.5" cy="350.2" r="0.33" fill="#000" opacity="0.3"/>
<circle cx="88.08" cy="346.93" r="0.33" fill="#000" opacity="0.3"/>
<circle cx="83.93" cy="350.22" r="0.33" fill="#000" opacity="0.3"/>
<circle cx="86.28" cy="345.31" r="0.33" fill="#000" opacity="0.3"/>
<circle cx="87.14" cy="351.78" r="0.33" fill="#000" opacity="0.3"/>
<circle cx="94.15" cy="356.28" r="0.33" fill="#000" opacity="0.2"/>
<circle cx="86.62" cy="342.53" r="0.33" fill="#000" opacity="0.2"/>
<circle cx="92.14" cy="353.57" r="0.33" fill="#000" opacity="0.2"/>
<circle cx="95.57" cy="339.13" r="0.33" fill="#000" opacity="0.2"/>
<circle cx="86.9" cy="342.2" r="0.33" fill="#000" opacity="0.2"/>
<circle cx="93.03" cy="345.25" r="0.33" fill="#000" opacity="0.2"/>
<circle cx="92.8" cy="350.41" r="0.33" fill="#000" opacity="0.2"/>
<circle cx="89.31" cy="343.29" r="0.33" fill="#000" opacity="0.2"/>
<circle cx="103.34" cy="349.67" r="0.33" fill="#000" opacity="0.2"/>
<circle cx="99.51" cy="349.16" r="0.33" fill="#000" opacity="0.2"/>
<circle cx="86.58" cy="341.53" r="0.33" fill="#000" opacity="0.2"/>
<circle cx="96.44" cy="353.56" r="0.33" fill="#000" opacity="0.2"/>
<ellipse cx="89.1" cy="352.3" rx="5" ry="1.8" transform="rotate(-5 89.1 352.3)" fill="#000" opacity="0.25" filter="url(#b0_8)"/>
<ellipse cx="85.8" cy="353.7" rx="2.46" ry="3.36" transform="rotate(30 85.8 353.7)" fill="#000" opacity="0.92" filter="url(#b0_45)"/>
<line x1="71.4" y1="348.5" x2="71.4" y2="368.1" stroke="#111" stroke-width="0.8"/>
<line x1="71.4" y1="368.1" x2="91.1" y2="368.1" stroke="#111" stroke-width="0.85"/>
<path d="M70.3 349.5 L71.4 347.1 L72.5 349.5 Z" fill="#000"/>
<path d="M90.1 366.85 L92.7 368.1 L90.1 369.35 Z" fill="#000"/>
<text x="0" y="0" font-size="5.9" text-anchor="middle" fill="#000" stroke="#000" stroke-width="0.24" transform="translate(66.9 358.7) rotate(-90) scale(1 0.88)" dominant-baseline="central">B220</text>
<text x="0" y="0" font-size="6.6" text-anchor="start" fill="#000" stroke="#000" stroke-width="0.26" transform="translate(73.5 376) scale(0.9 1)">Gr-1</text>
<line x1="26.3" y1="166.1" x2="53.6" y2="166.1" stroke="#8c8c8c" stroke-width="0.8"/>
<line x1="53.6" y1="166.1" x2="53.6" y2="191.4" stroke="#a8a8a8" stroke-width="1"/>
<line x1="26.3" y1="165.8" x2="26.3" y2="191.4" stroke="#333" stroke-width="0.9"/>
<line x1="26" y1="191.4" x2="53.6" y2="191.4" stroke="#333" stroke-width="0.9"/>
<line x1="25.3" y1="172.42" x2="26.3" y2="172.42" stroke="#444" stroke-width="0.7"/>
<line x1="33.12" y1="191.4" x2="33.12" y2="192.4" stroke="#444" stroke-width="0.7"/>
<line x1="25.3" y1="178.75" x2="26.3" y2="178.75" stroke="#444" stroke-width="0.7"/>
<line x1="39.95" y1="191.4" x2="39.95" y2="192.4" stroke="#444" stroke-width="0.7"/>
<line x1="25.3" y1="185.07" x2="26.3" y2="185.07" stroke="#444" stroke-width="0.7"/>
<line x1="46.78" y1="191.4" x2="46.78" y2="192.4" stroke="#444" stroke-width="0.7"/>
<line x1="34.7" y1="166.1" x2="34.7" y2="191.4" stroke="#666" stroke-width="0.7"/>
<line x1="26.3" y1="182.4" x2="53.6" y2="182.4" stroke="#666" stroke-width="0.7"/>
<text x="22.9" y="167.3" font-size="2.3" fill="#444" font-weight="normal" transform="rotate(-20 22.9 167.3)">10<tspan font-size="1.6" dy="-1">4</tspan></text>
<text x="22.9" y="191.9" font-size="2.3" fill="#444" font-weight="normal" transform="rotate(-20 22.9 191.9)">10<tspan font-size="1.6" dy="-1">0</tspan></text>
<text x="25.9" y="195.1" font-size="2.3" fill="#444" font-weight="normal" transform="rotate(-20 25.9 195.1)">10<tspan font-size="1.6" dy="-1">0</tspan></text>
<text x="52.2" y="195.1" font-size="2.3" fill="#444" font-weight="normal" transform="rotate(-20 52.2 195.1)">10<tspan font-size="1.6" dy="-1">4</tspan></text>
<circle cx="29.2" cy="180.12" r="0.33" fill="#000" opacity="0.3"/>
<circle cx="33.77" cy="182.36" r="0.33" fill="#000" opacity="0.3"/>
<circle cx="31.71" cy="179.01" r="0.33" fill="#000" opacity="0.3"/>
<circle cx="30.56" cy="184.82" r="0.33" fill="#000" opacity="0.3"/>
<circle cx="28.75" cy="183.89" r="0.33" fill="#000" opacity="0.3"/>
<circle cx="30.59" cy="182.44" r="0.33" fill="#000" opacity="0.3"/>
<circle cx="36.45" cy="181.3" r="0.33" fill="#000" opacity="0.3"/>
<circle cx="30.12" cy="177.35" r="0.33" fill="#000" opacity="0.3"/>
<circle cx="33.76" cy="180.46" r="0.33" fill="#000" opacity="0.3"/>
<circle cx="33.03" cy="179.72" r="0.33" fill="#000" opacity="0.3"/>
<circle cx="32.06" cy="185.28" r="0.33" fill="#000" opacity="0.3"/>
<circle cx="33.69" cy="183.34" r="0.33" fill="#000" opacity="0.3"/>
<circle cx="31.37" cy="181.34" r="0.33" fill="#000" opacity="0.3"/>
<circle cx="33.48" cy="182.49" r="0.33" fill="#000" opacity="0.3"/>
<circle cx="32.45" cy="185.24" r="0.33" fill="#000" opacity="0.3"/>
<circle cx="33.29" cy="180.36" r="0.33" fill="#000" opacity="0.3"/>
<circle cx="30.94" cy="179.74" r="0.33" fill="#000" opacity="0.3"/>
<circle cx="29.13" cy="181.51" r="0.33" fill="#000" opacity="0.3"/>
<circle cx="29.43" cy="181.01" r="0.33" fill="#000" opacity="0.3"/>
<circle cx="37.17" cy="173.21" r="0.33" fill="#000" opacity="0.2"/>
<circle cx="34.09" cy="182.37" r="0.33" fill="#000" opacity="0.2"/>
<circle cx="39.03" cy="171.63" r="0.33" fill="#000" opacity="0.2"/>
<circle cx="35" cy="185.01" r="0.33" fill="#000" opacity="0.2"/>
<circle cx="40.74" cy="184.18" r="0.33" fill="#000" opacity="0.2"/>
<circle cx="36.74" cy="176.23" r="0.33" fill="#000" opacity="0.2"/>
<circle cx="35.47" cy="177.38" r="0.33" fill="#000" opacity="0.2"/>
<circle cx="37.04" cy="178.38" r="0.33" fill="#000" opacity="0.2"/>
<ellipse cx="31.3" cy="184.6" rx="2.8" ry="4.2" transform="rotate(35 31.3 184.6)" fill="#000" opacity="0.2" filter="url(#b1_0)"/>
<ellipse cx="31.1" cy="185.5" rx="2.13" ry="3.36" transform="rotate(35 31.1 185.5)" fill="#000" opacity="1" filter="url(#b0_35)"/>
<line x1="17.6" y1="179.3" x2="17.6" y2="198.9" stroke="#111" stroke-width="0.8"/>
<line x1="17.6" y1="198.9" x2="37.3" y2="198.9" stroke="#111" stroke-width="0.85"/>
<path d="M16.5 180.3 L17.6 177.9 L18.7 180.3 Z" fill="#000"/>
<path d="M36.3 197.65 L38.9 198.9 L36.3 200.15 Z" fill="#000"/>
<text x="0" y="0" font-size="5.9" text-anchor="middle" fill="#000" stroke="#000" stroke-width="0.24" transform="translate(12.2 189.5) rotate(-90) scale(1 0.88)" dominant-baseline="central">CD8&#945;</text>
<text x="0" y="0" font-size="6.6" text-anchor="start" fill="#000" stroke="#000" stroke-width="0.26" transform="translate(19.7 206.8) scale(0.9 1)">CD4</text>
<line x1="23.1" y1="385.3" x2="50.4" y2="385.3" stroke="#8c8c8c" stroke-width="0.8"/>
<line x1="50.4" y1="385.3" x2="50.4" y2="410.6" stroke="#a8a8a8" stroke-width="1"/>
<line x1="23.1" y1="385" x2="23.1" y2="410.6" stroke="#333" stroke-width="0.9"/>
<line x1="22.8" y1="410.6" x2="50.4" y2="410.6" stroke="#333" stroke-width="0.9"/>
<line x1="22.1" y1="391.62" x2="23.1" y2="391.62" stroke="#444" stroke-width="0.7"/>
<line x1="29.93" y1="410.6" x2="29.93" y2="411.6" stroke="#444" stroke-width="0.7"/>
<line x1="22.1" y1="397.95" x2="23.1" y2="397.95" stroke="#444" stroke-width="0.7"/>
<line x1="36.75" y1="410.6" x2="36.75" y2="411.6" stroke="#444" stroke-width="0.7"/>
<line x1="22.1" y1="404.28" x2="23.1" y2="404.28" stroke="#444" stroke-width="0.7"/>
<line x1="43.58" y1="410.6" x2="43.58" y2="411.6" stroke="#444" stroke-width="0.7"/>
<line x1="31.5" y1="385.3" x2="31.5" y2="410.6" stroke="#666" stroke-width="0.7"/>
<line x1="23.1" y1="401.6" x2="50.4" y2="401.6" stroke="#666" stroke-width="0.7"/>
<text x="19.7" y="386.5" font-size="2.3" fill="#444" font-weight="normal" transform="rotate(-20 19.7 386.5)">10<tspan font-size="1.6" dy="-1">4</tspan></text>
<text x="19.7" y="411.1" font-size="2.3" fill="#444" font-weight="normal" transform="rotate(-20 19.7 411.1)">10<tspan font-size="1.6" dy="-1">0</tspan></text>
<text x="22.7" y="414.3" font-size="2.3" fill="#444" font-weight="normal" transform="rotate(-20 22.7 414.3)">10<tspan font-size="1.6" dy="-1">0</tspan></text>
<text x="49" y="414.3" font-size="2.3" fill="#444" font-weight="normal" transform="rotate(-20 49 414.3)">10<tspan font-size="1.6" dy="-1">4</tspan></text>
<circle cx="25.18" cy="402.16" r="0.33" fill="#000" opacity="0.3"/>
<circle cx="27.73" cy="400.58" r="0.33" fill="#000" opacity="0.3"/>
<circle cx="27.5" cy="400.82" r="0.33" fill="#000" opacity="0.3"/>
<circle cx="27.26" cy="401.32" r="0.33" fill="#000" opacity="0.3"/>
<circle cx="27.63" cy="401.29" r="0.33" fill="#000" opacity="0.3"/>
<circle cx="27.23" cy="399.25" r="0.33" fill="#000" opacity="0.3"/>
<circle cx="28.05" cy="401.37" r="0.33" fill="#000" opacity="0.3"/>
<circle cx="34.15" cy="402.67" r="0.33" fill="#000" opacity="0.3"/>
<circle cx="31.82" cy="402.39" r="0.33" fill="#000" opacity="0.3"/>
<circle cx="31.99" cy="402.01" r="0.33" fill="#000" opacity="0.3"/>
<circle cx="25.49" cy="401.87" r="0.33" fill="#000" opacity="0.3"/>
<circle cx="29.73" cy="406.42" r="0.33" fill="#000" opacity="0.3"/>
<circle cx="29.66" cy="402.73" r="0.33" fill="#000" opacity="0.3"/>
<circle cx="29.52" cy="398.33" r="0.33" fill="#000" opacity="0.3"/>
<circle cx="28.29" cy="407.5" r="0.33" fill="#000" opacity="0.3"/>
<circle cx="33" cy="402.94" r="0.33" fill="#000" opacity="0.3"/>
<circle cx="29.6" cy="407.04" r="0.33" fill="#000" opacity="0.3"/>
<circle cx="28.2" cy="402.5" r="0.33" fill="#000" opacity="0.3"/>
<circle cx="27.95" cy="398.69" r="0.33" fill="#000" opacity="0.3"/>
<circle cx="31.09" cy="397.31" r="0.33" fill="#000" opacity="0.3"/>
<circle cx="40.49" cy="393.48" r="0.33" fill="#000" opacity="0.2"/>
<circle cx="30.34" cy="393.82" r="0.33" fill="#000" opacity="0.2"/>
<circle cx="36.32" cy="401.57" r="0.33" fill="#000" opacity="0.2"/>
<circle cx="44.43" cy="401.64" r="0.33" fill="#000" opacity="0.2"/>
<circle cx="28.08" cy="400.95" r="0.33" fill="#000" opacity="0.2"/>
<circle cx="44.14" cy="400.51" r="0.33" fill="#000" opacity="0.2"/>
<circle cx="36.57" cy="402.23" r="0.33" fill="#000" opacity="0.2"/>
<circle cx="33.38" cy="405.58" r="0.33" fill="#000" opacity="0.2"/>
<circle cx="32.3" cy="397.52" r="0.33" fill="#000" opacity="0.2"/>
<circle cx="35.77" cy="397.7" r="0.33" fill="#000" opacity="0.2"/>
<ellipse cx="28.3" cy="404.8" rx="3.2" ry="4.2" transform="rotate(40 28.3 404.8)" fill="#000" opacity="0.25" filter="url(#b1_0)"/>
<ellipse cx="28.1" cy="405.3" rx="2.69" ry="3.81" transform="rotate(40 28.1 405.3)" fill="#000" opacity="0.92" filter="url(#b0_45)"/>
<line x1="14.4" y1="398.5" x2="14.4" y2="418.1" stroke="#111" stroke-width="0.8"/>
<line x1="14.4" y1="418.1" x2="34.1" y2="418.1" stroke="#111" stroke-width="0.85"/>
<path d="M13.3 399.5 L14.4 397.1 L15.5 399.5 Z" fill="#000"/>
<path d="M33.1 416.85 L35.7 418.1 L33.1 419.35 Z" fill="#000"/>
<text x="0" y="0" font-size="5.9" text-anchor="middle" fill="#000" stroke="#000" stroke-width="0.24" transform="translate(9.9 408.7) rotate(-90) scale(1 0.88)" dominant-baseline="central">CD8&#945;</text>
<text x="0" y="0" font-size="6.6" text-anchor="start" fill="#000" stroke="#000" stroke-width="0.26" transform="translate(16.5 426) scale(0.9 1)">CD4</text>
<line x1="83.3" y1="166.1" x2="110.6" y2="166.1" stroke="#8c8c8c" stroke-width="0.8"/>
<line x1="110.6" y1="166.1" x2="110.6" y2="191.4" stroke="#a8a8a8" stroke-width="1"/>
<line x1="83.3" y1="165.8" x2="83.3" y2="191.4" stroke="#333" stroke-width="0.9"/>
<line x1="83" y1="191.4" x2="110.6" y2="191.4" stroke="#333" stroke-width="0.9"/>
<line x1="82.3" y1="172.42" x2="83.3" y2="172.42" stroke="#444" stroke-width="0.7"/>
<line x1="90.12" y1="191.4" x2="90.12" y2="192.4" stroke="#444" stroke-width="0.7"/>
<line x1="82.3" y1="178.75" x2="83.3" y2="178.75" stroke="#444" stroke-width="0.7"/>
<line x1="96.95" y1="191.4" x2="96.95" y2="192.4" stroke="#444" stroke-width="0.7"/>
<line x1="82.3" y1="185.07" x2="83.3" y2="185.07" stroke="#444" stroke-width="0.7"/>
<line x1="103.78" y1="191.4" x2="103.78" y2="192.4" stroke="#444" stroke-width="0.7"/>
<line x1="91.7" y1="166.1" x2="91.7" y2="191.4" stroke="#666" stroke-width="0.7"/>
<line x1="83.3" y1="182.4" x2="110.6" y2="182.4" stroke="#666" stroke-width="0.7"/>
<text x="79.9" y="167.3" font-size="2.3" fill="#444" font-weight="normal" transform="rotate(-20 79.9 167.3)">10<tspan font-size="1.6" dy="-1">4</tspan></text>
<text x="79.9" y="191.9" font-size="2.3" fill="#444" font-weight="normal" transform="rotate(-20 79.9 191.9)">10<tspan font-size="1.6" dy="-1">0</tspan></text>
<text x="82.9" y="195.1" font-size="2.3" fill="#444" font-weight="normal" transform="rotate(-20 82.9 195.1)">10<tspan font-size="1.6" dy="-1">0</tspan></text>
<text x="109.2" y="195.1" font-size="2.3" fill="#444" font-weight="normal" transform="rotate(-20 109.2 195.1)">10<tspan font-size="1.6" dy="-1">4</tspan></text>
<circle cx="89.59" cy="187.2" r="0.33" fill="#000" opacity="0.3"/>
<circle cx="106.07" cy="182.77" r="0.33" fill="#000" opacity="0.3"/>
<circle cx="93.53" cy="184.61" r="0.33" fill="#000" opacity="0.3"/>
<circle cx="100.2" cy="182.6" r="0.33" fill="#000" opacity="0.3"/>
<circle cx="96.63" cy="181.06" r="0.33" fill="#000" opacity="0.3"/>
<circle cx="92.81" cy="180.67" r="0.33" fill="#000" opacity="0.3"/>
<circle cx="95.11" cy="182.83" r="0.33" fill="#000" opacity="0.3"/>
<circle cx="98.56" cy="184.37" r="0.33" fill="#000" opacity="0.3"/>
<circle cx="97.01" cy="185.12" r="0.33" fill="#000" opacity="0.3"/>
<circle cx="96.01" cy="188.11" r="0.33" fill="#000" opacity="0.3"/>
<circle cx="96.59" cy="182.32" r="0.33" fill="#000" opacity="0.3"/>
<circle cx="98.61" cy="186.18" r="0.33" fill="#000" opacity="0.3"/>
<circle cx="100.14" cy="184.03" r="0.33" fill="#000" opacity="0.3"/>
<circle cx="95.75" cy="186.74" r="0.33" fill="#000" opacity="0.3"/>
<circle cx="95.21" cy="185.79" r="0.33" fill="#000" opacity="0.3"/>
<circle cx="96.09" cy="178.49" r="0.33" fill="#000" opacity="0.3"/>
<circle cx="96.7" cy="182.66" r="0.33" fill="#000" opacity="0.3"/>
<circle cx="99.03" cy="180.85" r="0.33" fill="#000" opacity="0.3"/>
<circle cx="89.18" cy="187.93" r="0.33" fill="#000" opacity="0.3"/>
<circle cx="92.06" cy="179.02" r="0.33" fill="#000" opacity="0.3"/>
<circle cx="94.49" cy="184.51" r="0.33" fill="#000" opacity="0.3"/>
<circle cx="89.95" cy="183.36" r="0.33" fill="#000" opacity="0.3"/>
<circle cx="90.03" cy="184.42" r="0.33" fill="#000" opacity="0.3"/>
<circle cx="92.96" cy="183.82" r="0.33" fill="#000" opacity="0.3"/>
<circle cx="89.66" cy="184.42" r="0.33" fill="#000" opacity="0.3"/>
<circle cx="96.82" cy="179.54" r="0.33" fill="#000" opacity="0.3"/>
<circle cx="95.39" cy="186.94" r="0.33" fill="#000" opacity="0.3"/>
<circle cx="101.25" cy="181.53" r="0.33" fill="#000" opacity="0.3"/>
<circle cx="103.51" cy="182.28" r="0.33" fill="#000" opacity="0.3"/>
<circle cx="86.48" cy="189.6" r="0.33" fill="#000" opacity="0.3"/>
<circle cx="85.57" cy="173.01" r="0.33" fill="#000" opacity="0.2"/>
<circle cx="86.97" cy="189.02" r="0.33" fill="#000" opacity="0.2"/>
<circle cx="92.06" cy="177.42" r="0.33" fill="#000" opacity="0.2"/>
<circle cx="98.61" cy="176.78" r="0.33" fill="#000" opacity="0.2"/>
<circle cx="97.1" cy="179.43" r="0.33" fill="#000" opacity="0.2"/>
<circle cx="92.87" cy="176.53" r="0.33" fill="#000" opacity="0.2"/>
<circle cx="89.57" cy="173.72" r="0.33" fill="#000" opacity="0.2"/>
<circle cx="94.96" cy="178.98" r="0.33" fill="#000" opacity="0.2"/>
<ellipse cx="97.2" cy="183.8" rx="6" ry="2.2" transform="rotate(-38 97.2 183.8)" fill="#000" opacity="0.2" filter="url(#b1_0)"/>
<ellipse cx="95.3" cy="185.5" rx="3.14" ry="1.23" transform="rotate(-45 95.3 185.5)" fill="#000" opacity="1" filter="url(#b0_35)"/>
<ellipse cx="98.3" cy="182.7" rx="3.58" ry="1.68" transform="rotate(-35 98.3 182.7)" fill="#000" opacity="1" filter="url(#b0_35)"/>
<line x1="74.6" y1="179.3" x2="74.6" y2="198.9" stroke="#111" stroke-width="0.8"/>
<line x1="74.6" y1="198.9" x2="94.3" y2="198.9" stroke="#111" stroke-width="0.85"/>
<path d="M73.5 180.3 L74.6 177.9 L75.7 180.3 Z" fill="#000"/>
<path d="M93.3 197.65 L95.9 198.9 L93.3 200.15 Z" fill="#000"/>
<text x="0" y="0" font-size="5.9" text-anchor="middle" fill="#000" stroke="#000" stroke-width="0.24" transform="translate(69.2 189.5) rotate(-90) scale(1 0.88)" dominant-baseline="central">mPDCA-1</text>
<text x="0" y="0" font-size="6.6" text-anchor="start" fill="#000" stroke="#000" stroke-width="0.26" transform="translate(76.7 206.8) scale(0.9 1)">CD11b</text>
<line x1="80.1" y1="385.3" x2="107.4" y2="385.3" stroke="#8c8c8c" stroke-width="0.8"/>
<line x1="107.4" y1="385.3" x2="107.4" y2="410.6" stroke="#a8a8a8" stroke-width="1"/>
<line x1="80.1" y1="385" x2="80.1" y2="410.6" stroke="#333" stroke-width="0.9"/>
<line x1="79.8" y1="410.6" x2="107.4" y2="410.6" stroke="#333" stroke-width="0.9"/>
<line x1="79.1" y1="391.62" x2="80.1" y2="391.62" stroke="#444" stroke-width="0.7"/>
<line x1="86.92" y1="410.6" x2="86.92" y2="411.6" stroke="#444" stroke-width="0.7"/>
<line x1="79.1" y1="397.95" x2="80.1" y2="397.95" stroke="#444" stroke-width="0.7"/>
<line x1="93.75" y1="410.6" x2="93.75" y2="411.6" stroke="#444" stroke-width="0.7"/>
<line x1="79.1" y1="404.28" x2="80.1" y2="404.28" stroke="#444" stroke-width="0.7"/>
<line x1="100.57" y1="410.6" x2="100.57" y2="411.6" stroke="#444" stroke-width="0.7"/>
<line x1="88.5" y1="385.3" x2="88.5" y2="410.6" stroke="#666" stroke-width="0.7"/>
<line x1="80.1" y1="401.6" x2="107.4" y2="401.6" stroke="#666" stroke-width="0.7"/>
<text x="76.7" y="386.5" font-size="2.3" fill="#444" font-weight="normal" transform="rotate(-20 76.7 386.5)">10<tspan font-size="1.6" dy="-1">4</tspan></text>
<text x="76.7" y="411.1" font-size="2.3" fill="#444" font-weight="normal" transform="rotate(-20 76.7 411.1)">10<tspan font-size="1.6" dy="-1">0</tspan></text>
<text x="79.7" y="414.3" font-size="2.3" fill="#444" font-weight="normal" transform="rotate(-20 79.7 414.3)">10<tspan font-size="1.6" dy="-1">0</tspan></text>
<text x="106" y="414.3" font-size="2.3" fill="#444" font-weight="normal" transform="rotate(-20 106 414.3)">10<tspan font-size="1.6" dy="-1">4</tspan></text>
<circle cx="89.16" cy="398" r="0.33" fill="#000" opacity="0.3"/>
<circle cx="86.04" cy="400.37" r="0.33" fill="#000" opacity="0.3"/>
<circle cx="92.84" cy="399.64" r="0.33" fill="#000" opacity="0.3"/>
<circle cx="87.71" cy="399.93" r="0.33" fill="#000" opacity="0.3"/>
<circle cx="85.14" cy="402.44" r="0.33" fill="#000" opacity="0.3"/>
<circle cx="90.02" cy="403.5" r="0.33" fill="#000" opacity="0.3"/>
<circle cx="89.81" cy="401.71" r="0.33" fill="#000" opacity="0.3"/>
<circle cx="81.41" cy="401.45" r="0.33" fill="#000" opacity="0.3"/>
<circle cx="89.88" cy="401.62" r="0.33" fill="#000" opacity="0.3"/>
<circle cx="86.3" cy="404.46" r="0.33" fill="#000" opacity="0.3"/>
<circle cx="96.07" cy="403.31" r="0.33" fill="#000" opacity="0.3"/>
<circle cx="87.83" cy="404.22" r="0.33" fill="#000" opacity="0.3"/>
<circle cx="84.79" cy="399.82" r="0.33" fill="#000" opacity="0.3"/>
<circle cx="88.56" cy="405.27" r="0.33" fill="#000" opacity="0.3"/>
<circle cx="84.67" cy="396.46" r="0.33" fill="#000" opacity="0.3"/>
<circle cx="83.18" cy="405.1" r="0.33" fill="#000" opacity="0.3"/>
<circle cx="84.82" cy="398.57" r="0.33" fill="#000" opacity="0.3"/>
<circle cx="81.53" cy="401.17" r="0.33" fill="#000" opacity="0.3"/>
<circle cx="93.45" cy="399.04" r="0.33" fill="#000" opacity="0.3"/>
<circle cx="90.96" cy="398.02" r="0.33" fill="#000" opacity="0.3"/>
<circle cx="84.36" cy="404.23" r="0.33" fill="#000" opacity="0.3"/>
<circle cx="91.33" cy="405.85" r="0.33" fill="#000" opacity="0.3"/>
<circle cx="89.43" cy="404.02" r="0.33" fill="#000" opacity="0.3"/>
<circle cx="84.75" cy="404.78" r="0.33" fill="#000" opacity="0.3"/>
<circle cx="89.98" cy="401.71" r="0.33" fill="#000" opacity="0.3"/>
<circle cx="88.46" cy="400.22" r="0.33" fill="#000" opacity="0.3"/>
<circle cx="84.91" cy="398.26" r="0.33" fill="#000" opacity="0.3"/>
<circle cx="93.96" cy="403.6" r="0.33" fill="#000" opacity="0.3"/>
<circle cx="102.73" cy="402.84" r="0.33" fill="#000" opacity="0.3"/>
<circle cx="97.06" cy="406.24" r="0.33" fill="#000" opacity="0.2"/>
<circle cx="104.94" cy="395.44" r="0.33" fill="#000" opacity="0.2"/>
<circle cx="92.8" cy="402.6" r="0.33" fill="#000" opacity="0.2"/>
<circle cx="95.09" cy="400.97" r="0.33" fill="#000" opacity="0.2"/>
<circle cx="96.64" cy="399.53" r="0.33" fill="#000" opacity="0.2"/>
<circle cx="92.55" cy="398.42" r="0.33" fill="#000" opacity="0.2"/>
<circle cx="94.82" cy="403.36" r="0.33" fill="#000" opacity="0.2"/>
<circle cx="89.33" cy="391.91" r="0.33" fill="#000" opacity="0.2"/>
<circle cx="99.92" cy="396.11" r="0.33" fill="#000" opacity="0.2"/>
<circle cx="93.99" cy="400.6" r="0.33" fill="#000" opacity="0.2"/>
<ellipse cx="92.1" cy="402.5" rx="5.5" ry="2" transform="rotate(-15 92.1 402.5)" fill="#000" opacity="0.4" filter="url(#b0_8)"/>
<ellipse cx="86.7" cy="404.6" rx="3.58" ry="2.91" transform="rotate(-10 86.7 404.6)" fill="#000" opacity="0.92" filter="url(#b0_45)"/>
<line x1="71.4" y1="398.5" x2="71.4" y2="418.1" stroke="#111" stroke-width="0.8"/>
<line x1="71.4" y1="418.1" x2="91.1" y2="418.1" stroke="#111" stroke-width="0.85"/>
<path d="M70.3 399.5 L71.4 397.1 L72.5 399.5 Z" fill="#000"/>
<path d="M90.1 416.85 L92.7 418.1 L90.1 419.35 Z" fill="#000"/>
<text x="0" y="0" font-size="5.9" text-anchor="middle" fill="#000" stroke="#000" stroke-width="0.24" transform="translate(66.9 408.7) rotate(-90) scale(1 0.88)" dominant-baseline="central">mPDCA-1</text>
<text x="0" y="0" font-size="6.6" text-anchor="start" fill="#000" stroke="#000" stroke-width="0.26" transform="translate(73.5 426) scale(0.9 1)">CD11b</text>
<line x1="154.2" y1="24" x2="154.2" y2="158.1" stroke="#8a8a8a" stroke-width="0.8"/>
<line x1="154.2" y1="158.1" x2="350" y2="158.1" stroke="#8a8a8a" stroke-width="0.8"/>
<line x1="153" y1="158.1" x2="154.2" y2="158.1" stroke="#8a8a8a" stroke-width="0.6"/>
<text x="152.6" y="160.8" font-size="4.3" text-anchor="end" fill="#000" stroke="#000" stroke-width="0.32">0</text>
<line x1="153" y1="113.4" x2="154.2" y2="113.4" stroke="#8a8a8a" stroke-width="0.6"/>
<text x="152.6" y="116.1" font-size="4.3" text-anchor="end" fill="#000" stroke="#000" stroke-width="0.32">100</text>
<line x1="153" y1="68.7" x2="154.2" y2="68.7" stroke="#8a8a8a" stroke-width="0.6"/>
<text x="152.6" y="71.4" font-size="4.3" text-anchor="end" fill="#000" stroke="#000" stroke-width="0.32">200</text>
<line x1="153" y1="24" x2="154.2" y2="24" stroke="#8a8a8a" stroke-width="0.6"/>
<text x="152.6" y="26.7" font-size="4.3" text-anchor="end" fill="#000" stroke="#000" stroke-width="0.32">300</text>
<rect x="155.05" y="98.65" width="7.15" height="59.45" fill="#fff" stroke="#8a8a8a" stroke-width="0.7"/>
<line x1="158.62" y1="97.31" x2="158.62" y2="98.65" stroke="#8a8a8a" stroke-width="0.6"/>
<line x1="156.53" y1="97.31" x2="160.72" y2="97.31" stroke="#8a8a8a" stroke-width="0.7"/>
<rect x="162.55" y="154.97" width="7.85" height="3.13" fill="#000"/>
<circle cx="166.47" cy="151.67" r="1.1" fill="#000"/>
<text x="0" y="0" font-size="4.6" text-anchor="middle" fill="#000" stroke="#000" stroke-width="0.26" transform="translate(162.55 165.2) scale(0.95 1)">CD40</text>
<rect x="172.81" y="71.83" width="7.15" height="86.27" fill="#fff" stroke="#8a8a8a" stroke-width="0.7"/>
<line x1="176.38" y1="66.91" x2="176.38" y2="71.83" stroke="#8a8a8a" stroke-width="0.6"/>
<line x1="174.28" y1="66.91" x2="178.48" y2="66.91" stroke="#8a8a8a" stroke-width="0.7"/>
<rect x="180.31" y="153.63" width="7.85" height="4.47" fill="#000"/>
<circle cx="184.23" cy="150.33" r="1.1" fill="#000"/>
<text x="0" y="0" font-size="4.6" text-anchor="middle" fill="#000" stroke="#000" stroke-width="0.26" transform="translate(180.31 165.2) scale(0.95 1)">CD80</text>
<rect x="190.57" y="154.52" width="7.15" height="3.58" fill="#fff" stroke="#8a8a8a" stroke-width="0.7"/>
<line x1="194.15" y1="153.63" x2="194.15" y2="154.52" stroke="#8a8a8a" stroke-width="0.6"/>
<line x1="192.05" y1="153.63" x2="196.25" y2="153.63" stroke="#8a8a8a" stroke-width="0.7"/>
<rect x="198.07" y="155.42" width="7.85" height="2.68" fill="#000"/>
<text x="0" y="0" font-size="4.6" text-anchor="middle" fill="#000" stroke="#000" stroke-width="0.26" transform="translate(198.07 165.2) scale(0.95 1)">CD4</text>
<rect x="208.33" y="153.18" width="7.15" height="4.92" fill="#fff" stroke="#8a8a8a" stroke-width="0.7"/>
<line x1="211.91" y1="151.84" x2="211.91" y2="153.18" stroke="#8a8a8a" stroke-width="0.6"/>
<line x1="209.81" y1="151.84" x2="214" y2="151.84" stroke="#8a8a8a" stroke-width="0.7"/>
<rect x="215.83" y="153.63" width="7.85" height="4.47" fill="#000"/>
<line x1="219.75" y1="153.18" x2="219.75" y2="153.63" stroke="#8a8a8a" stroke-width="0.6"/>
<line x1="217.66" y1="153.18" x2="221.85" y2="153.18" stroke="#8a8a8a" stroke-width="0.7"/>
<text x="0" y="0" font-size="4.6" text-anchor="middle" fill="#000" stroke="#000" stroke-width="0.26" transform="translate(215.83 165.2) scale(0.95 1)">CD8&#945;</text>
<rect x="226.09" y="137.98" width="7.15" height="20.12" fill="#fff" stroke="#8a8a8a" stroke-width="0.7"/>
<line x1="229.67" y1="136.2" x2="229.67" y2="137.98" stroke="#8a8a8a" stroke-width="0.6"/>
<line x1="227.57" y1="136.2" x2="231.77" y2="136.2" stroke="#8a8a8a" stroke-width="0.7"/>
<rect x="233.59" y="152.74" width="7.85" height="5.36" fill="#000"/>
<circle cx="237.52" cy="149.44" r="1.1" fill="#000"/>
<text x="0" y="0" font-size="4.6" text-anchor="middle" fill="#000" stroke="#000" stroke-width="0.26" transform="translate(233.59 165.2) scale(0.95 1)">CD205</text>
<rect x="243.85" y="151.39" width="7.15" height="6.71" fill="#fff" stroke="#8a8a8a" stroke-width="0.7"/>
<line x1="247.43" y1="150.05" x2="247.43" y2="151.39" stroke="#8a8a8a" stroke-width="0.6"/>
<line x1="245.33" y1="150.05" x2="249.53" y2="150.05" stroke="#8a8a8a" stroke-width="0.7"/>
<rect x="251.35" y="154.08" width="7.85" height="4.02" fill="#000"/>
<text x="0" y="0" font-size="4.6" text-anchor="middle" fill="#000" stroke="#000" stroke-width="0.26" transform="translate(251.35 165.2) scale(0.95 1)">33D1</text>
<rect x="261.61" y="146.48" width="7.15" height="11.62" fill="#fff" stroke="#8a8a8a" stroke-width="0.7"/>
<line x1="265.19" y1="145.58" x2="265.19" y2="146.48" stroke="#8a8a8a" stroke-width="0.6"/>
<line x1="263.08" y1="145.58" x2="267.29" y2="145.58" stroke="#8a8a8a" stroke-width="0.7"/>
<rect x="269.11" y="128.15" width="7.85" height="29.95" fill="#000"/>
<line x1="273.04" y1="126.36" x2="273.04" y2="128.15" stroke="#8a8a8a" stroke-width="0.6"/>
<line x1="270.94" y1="126.36" x2="275.14" y2="126.36" stroke="#8a8a8a" stroke-width="0.7"/>
<circle cx="273.04" cy="123.06" r="1.1" fill="#000"/>
<text x="0" y="0" font-size="4.6" text-anchor="middle" fill="#000" stroke="#000" stroke-width="0.26" transform="translate(269.11 165.2) scale(0.95 1)">CD45RB</text>
<rect x="279.37" y="151.84" width="7.15" height="6.26" fill="#fff" stroke="#8a8a8a" stroke-width="0.7"/>
<line x1="282.94" y1="151.17" x2="282.94" y2="151.84" stroke="#8a8a8a" stroke-width="0.6"/>
<line x1="280.84" y1="151.17" x2="285.05" y2="151.17" stroke="#8a8a8a" stroke-width="0.7"/>
<rect x="286.87" y="152.74" width="7.85" height="5.36" fill="#000"/>
<line x1="290.8" y1="152.29" x2="290.8" y2="152.74" stroke="#8a8a8a" stroke-width="0.6"/>
<line x1="288.69" y1="152.29" x2="292.9" y2="152.29" stroke="#8a8a8a" stroke-width="0.7"/>
<text x="0" y="0" font-size="4.6" text-anchor="middle" fill="#000" stroke="#000" stroke-width="0.26" transform="translate(286.87 165.2) scale(0.95 1)">Gr-1</text>
<rect x="297.13" y="151.84" width="7.15" height="6.26" fill="#fff" stroke="#8a8a8a" stroke-width="0.7"/>
<line x1="300.7" y1="150.95" x2="300.7" y2="151.84" stroke="#8a8a8a" stroke-width="0.6"/>
<line x1="298.6" y1="150.95" x2="302.81" y2="150.95" stroke="#8a8a8a" stroke-width="0.7"/>
<rect x="304.63" y="152.74" width="7.85" height="5.36" fill="#000"/>
<line x1="308.56" y1="152.29" x2="308.56" y2="152.74" stroke="#8a8a8a" stroke-width="0.6"/>
<line x1="306.45" y1="152.29" x2="310.66" y2="152.29" stroke="#8a8a8a" stroke-width="0.7"/>
<text x="0" y="0" font-size="4.6" text-anchor="middle" fill="#000" stroke="#000" stroke-width="0.26" transform="translate(304.63 165.2) scale(0.95 1)">B220</text>
<rect x="314.89" y="88.37" width="7.15" height="69.73" fill="#fff" stroke="#8a8a8a" stroke-width="0.7"/>
<line x1="318.46" y1="82.11" x2="318.46" y2="88.37" stroke="#8a8a8a" stroke-width="0.6"/>
<line x1="316.36" y1="82.11" x2="320.56" y2="82.11" stroke="#8a8a8a" stroke-width="0.7"/>
<rect x="322.39" y="141.56" width="7.85" height="16.54" fill="#000"/>
<circle cx="326.31" cy="138.26" r="1.1" fill="#000"/>
<text x="0" y="0" font-size="4.6" text-anchor="middle" fill="#000" stroke="#000" stroke-width="0.26" transform="translate(322.39 165.2) scale(0.95 1)">CD11b</text>
<rect x="332.65" y="151.39" width="7.15" height="6.71" fill="#fff" stroke="#8a8a8a" stroke-width="0.7"/>
<line x1="336.23" y1="149.61" x2="336.23" y2="151.39" stroke="#8a8a8a" stroke-width="0.6"/>
<line x1="334.12" y1="149.61" x2="338.33" y2="149.61" stroke="#8a8a8a" stroke-width="0.7"/>
<rect x="340.15" y="152.29" width="7.85" height="5.81" fill="#000"/>
<line x1="344.08" y1="151.84" x2="344.08" y2="152.29" stroke="#8a8a8a" stroke-width="0.6"/>
<line x1="341.98" y1="151.84" x2="346.18" y2="151.84" stroke="#8a8a8a" stroke-width="0.7"/>
<text x="0" y="0" font-size="4.6" text-anchor="middle" fill="#000" stroke="#000" stroke-width="0.26" transform="translate(340.15 165.2) scale(0.95 1)">mPDCA-1</text>
<text x="0" y="0" font-size="6" text-anchor="middle" fill="#000" stroke="#000" stroke-width="0.24" transform="translate(136.6 94.1) rotate(-90) scale(1 0.88)" dominant-baseline="central">Mean fluorescence intensity</text>
<circle cx="206.5" cy="39.7" r="0.95" fill="#ddd" stroke="#aaa" stroke-width="0.4"/>
<text x="209.8" y="41.4" font-size="4.5" text-anchor="start" fill="#000" stroke="#000" stroke-width="0.16">mDCs</text>
<rect x="205.5" y="44.8" width="2" height="2" fill="#000"/>
<text x="209.8" y="47.5" font-size="4.5" text-anchor="start" fill="#000" stroke="#000" stroke-width="0.16">DC<tspan font-size="3.2" dy="0.5">reg</tspan></text>
<line x1="375.5" y1="24.2" x2="375.5" y2="158.1" stroke="#8a8a8a" stroke-width="0.8"/>
<line x1="375.5" y1="158.1" x2="442" y2="158.1" stroke="#8a8a8a" stroke-width="0.8"/>
<line x1="374.3" y1="158.1" x2="375.5" y2="158.1" stroke="#8a8a8a" stroke-width="0.6"/>
<text x="373.9" y="160.8" font-size="4.3" text-anchor="end" fill="#000" stroke="#000" stroke-width="0.32">0</text>
<line x1="374.3" y1="113.47" x2="375.5" y2="113.47" stroke="#8a8a8a" stroke-width="0.6"/>
<text x="373.9" y="116.17" font-size="4.3" text-anchor="end" fill="#000" stroke="#000" stroke-width="0.32">500</text>
<line x1="374.3" y1="68.83" x2="375.5" y2="68.83" stroke="#8a8a8a" stroke-width="0.6"/>
<text x="373.9" y="71.53" font-size="4.3" text-anchor="end" fill="#000" stroke="#000" stroke-width="0.32">1000</text>
<line x1="374.3" y1="24.2" x2="375.5" y2="24.2" stroke="#8a8a8a" stroke-width="0.6"/>
<text x="373.9" y="26.9" font-size="4.3" text-anchor="end" fill="#000" stroke="#000" stroke-width="0.32">1500</text>
<rect x="378.65" y="46.25" width="7.3" height="111.85" fill="#fff" stroke="#8a8a8a" stroke-width="0.7"/>
<line x1="382.3" y1="34.38" x2="382.3" y2="46.25" stroke="#8a8a8a" stroke-width="0.6"/>
<line x1="380.2" y1="34.38" x2="384.4" y2="34.38" stroke="#8a8a8a" stroke-width="0.7"/>
<rect x="386.3" y="155.42" width="8" height="2.68" fill="#000"/>
<circle cx="390.3" cy="152.12" r="1.1" fill="#000"/>
<text x="0" y="0" font-size="4.6" text-anchor="middle" fill="#000" stroke="#000" stroke-width="0.26" transform="translate(386.3 165.2) scale(0.95 1)">CD86</text>
<rect x="400.4" y="140.25" width="7.3" height="17.85" fill="#fff" stroke="#8a8a8a" stroke-width="0.7"/>
<line x1="404.05" y1="139.8" x2="404.05" y2="140.25" stroke="#8a8a8a" stroke-width="0.6"/>
<line x1="401.95" y1="139.8" x2="406.15" y2="139.8" stroke="#8a8a8a" stroke-width="0.7"/>
<rect x="408.05" y="126.14" width="8" height="31.96" fill="#000"/>
<line x1="412.05" y1="125.25" x2="412.05" y2="126.14" stroke="#8a8a8a" stroke-width="0.6"/>
<line x1="409.95" y1="125.25" x2="414.15" y2="125.25" stroke="#8a8a8a" stroke-width="0.7"/>
<circle cx="412.05" cy="121.95" r="1.1" fill="#000"/>
<text x="0" y="0" font-size="4.6" text-anchor="middle" fill="#000" stroke="#000" stroke-width="0.26" transform="translate(408.05 165.2) scale(0.95 1)">H-2K<tspan font-size="3" dy="-1.5">d</tspan></text>
<rect x="422.15" y="110.34" width="7.3" height="47.76" fill="#fff" stroke="#8a8a8a" stroke-width="0.7"/>
<line x1="425.8" y1="107.66" x2="425.8" y2="110.34" stroke="#8a8a8a" stroke-width="0.6"/>
<line x1="423.7" y1="107.66" x2="427.9" y2="107.66" stroke="#8a8a8a" stroke-width="0.7"/>
<rect x="429.8" y="155.42" width="8" height="2.68" fill="#000"/>
<circle cx="433.8" cy="152.12" r="1.1" fill="#000"/>
<text x="0" y="0" font-size="4.6" text-anchor="middle" fill="#000" stroke="#000" stroke-width="0.26" transform="translate(429.8 165.2) scale(0.95 1)">CD11c</text>
<text x="0" y="0" font-size="6" text-anchor="middle" fill="#000" stroke="#000" stroke-width="0.24" transform="translate(360.1 94.2) rotate(-90) scale(1 0.88)" dominant-baseline="central">Mean fluorescence intensity</text>
<circle cx="399.8" cy="39.8" r="0.95" fill="#ddd" stroke="#aaa" stroke-width="0.4"/>
<text x="403.1" y="41.5" font-size="4.5" text-anchor="start" fill="#000" stroke="#000" stroke-width="0.16">mDCs</text>
<rect x="398.8" y="44.9" width="2" height="2" fill="#000"/>
<text x="403.1" y="47.6" font-size="4.5" text-anchor="start" fill="#000" stroke="#000" stroke-width="0.16">DC<tspan font-size="3.2" dy="0.5">reg</tspan></text>
<line x1="468.5" y1="24.7" x2="468.5" y2="158.1" stroke="#8a8a8a" stroke-width="0.8"/>
<line x1="468.5" y1="158.1" x2="517" y2="158.1" stroke="#8a8a8a" stroke-width="0.8"/>
<line x1="467.3" y1="158.1" x2="468.5" y2="158.1" stroke="#8a8a8a" stroke-width="0.6"/>
<text x="466.9" y="160.8" font-size="4.3" text-anchor="end" fill="#000" stroke="#000" stroke-width="0.32">0</text>
<line x1="467.3" y1="113.63" x2="468.5" y2="113.63" stroke="#8a8a8a" stroke-width="0.6"/>
<text x="466.9" y="116.33" font-size="4.3" text-anchor="end" fill="#000" stroke="#000" stroke-width="0.32">2000</text>
<line x1="467.3" y1="69.17" x2="468.5" y2="69.17" stroke="#8a8a8a" stroke-width="0.6"/>
<text x="466.9" y="71.87" font-size="4.3" text-anchor="end" fill="#000" stroke="#000" stroke-width="0.32">4000</text>
<line x1="467.3" y1="24.7" x2="468.5" y2="24.7" stroke="#8a8a8a" stroke-width="0.6"/>
<text x="466.9" y="27.4" font-size="4.3" text-anchor="end" fill="#000" stroke="#000" stroke-width="0.32">6000</text>
<rect x="473.65" y="107.3" width="7.2" height="50.8" fill="#fff" stroke="#8a8a8a" stroke-width="0.7"/>
<line x1="477.25" y1="102.41" x2="477.25" y2="107.3" stroke="#8a8a8a" stroke-width="0.6"/>
<line x1="475.15" y1="102.41" x2="479.35" y2="102.41" stroke="#8a8a8a" stroke-width="0.7"/>
<rect x="481.2" y="153.3" width="7.9" height="4.8" fill="#000"/>
<circle cx="485.15" cy="150" r="1.1" fill="#000"/>
<text x="0" y="0" font-size="4.6" text-anchor="middle" fill="#000" stroke="#000" stroke-width="0.26" transform="translate(481.2 165.2) scale(0.95 1)">CD54</text>
<rect x="499.25" y="42.2" width="7.2" height="115.9" fill="#fff" stroke="#8a8a8a" stroke-width="0.7"/>
<line x1="502.85" y1="34.86" x2="502.85" y2="42.2" stroke="#8a8a8a" stroke-width="0.6"/>
<line x1="500.75" y1="34.86" x2="504.95" y2="34.86" stroke="#8a8a8a" stroke-width="0.7"/>
<rect x="506.8" y="141" width="7.9" height="17.1" fill="#000"/>
<circle cx="510.75" cy="137.7" r="1.1" fill="#000"/>
<text x="0" y="0" font-size="4.6" text-anchor="middle" fill="#000" stroke="#000" stroke-width="0.26" transform="translate(506.8 165.2) scale(0.95 1)">I-A/I-E</text>
<text x="0" y="0" font-size="6" text-anchor="middle" fill="#000" stroke="#000" stroke-width="0.24" transform="translate(452.9 94.2) rotate(-90) scale(1 0.88)" dominant-baseline="central">Mean fluorescence intensity</text>
<circle cx="478.4" cy="39.9" r="0.95" fill="#ddd" stroke="#aaa" stroke-width="0.4"/>
<text x="481.7" y="41.6" font-size="4.5" text-anchor="start" fill="#000" stroke="#000" stroke-width="0.16">mDCs</text>
<rect x="477.4" y="45" width="2" height="2" fill="#000"/>
<text x="481.7" y="47.7" font-size="4.5" text-anchor="start" fill="#000" stroke="#000" stroke-width="0.16">DC<tspan font-size="3.2" dy="0.5">reg</tspan></text>
<line x1="154.7" y1="233.3" x2="154.7" y2="366.3" stroke="#8a8a8a" stroke-width="0.8"/>
<line x1="154.7" y1="366.3" x2="224" y2="366.3" stroke="#8a8a8a" stroke-width="0.8"/>
<line x1="153.5" y1="366.3" x2="154.7" y2="366.3" stroke="#8a8a8a" stroke-width="0.6"/>
<text x="153.1" y="369" font-size="4.3" text-anchor="end" fill="#000" stroke="#000" stroke-width="0.32">0</text>
<line x1="153.5" y1="333.05" x2="154.7" y2="333.05" stroke="#8a8a8a" stroke-width="0.6"/>
<text x="153.1" y="335.75" font-size="4.3" text-anchor="end" fill="#000" stroke="#000" stroke-width="0.32">1000</text>
<line x1="153.5" y1="299.8" x2="154.7" y2="299.8" stroke="#8a8a8a" stroke-width="0.6"/>
<text x="153.1" y="302.5" font-size="4.3" text-anchor="end" fill="#000" stroke="#000" stroke-width="0.32">2000</text>
<line x1="153.5" y1="266.55" x2="154.7" y2="266.55" stroke="#8a8a8a" stroke-width="0.6"/>
<text x="153.1" y="269.25" font-size="4.3" text-anchor="end" fill="#000" stroke="#000" stroke-width="0.32">3000</text>
<line x1="153.5" y1="233.3" x2="154.7" y2="233.3" stroke="#8a8a8a" stroke-width="0.6"/>
<text x="153.1" y="236" font-size="4.3" text-anchor="end" fill="#000" stroke="#000" stroke-width="0.32">4000</text>
<rect x="158.55" y="360.38" width="6.9" height="5.92" fill="#fff" stroke="#8a8a8a" stroke-width="0.7"/>
<rect x="165.8" y="249.93" width="7.6" height="116.38" fill="#000"/>
<line x1="169.6" y1="241.41" x2="169.6" y2="249.93" stroke="#8a8a8a" stroke-width="0.6"/>
<line x1="167.5" y1="241.41" x2="171.7" y2="241.41" stroke="#8a8a8a" stroke-width="0.7"/>
<text x="0" y="0" font-size="4.6" text-anchor="middle" fill="#000" stroke="#000" stroke-width="0.26" transform="translate(165.8 373.5) scale(0.95 1)">mDCs</text>
<rect x="181.65" y="366.3" width="6.9" height="0" fill="#fff" stroke="#8a8a8a" stroke-width="0.7"/>
<circle cx="185.1" cy="363.8" r="1.25" fill="#000"/>
<rect x="188.9" y="353.2" width="7.6" height="13.1" fill="#000"/>
<circle cx="192.7" cy="350.7" r="1.25" fill="#000"/>
<text x="0" y="0" font-size="4.6" text-anchor="middle" fill="#000" stroke="#000" stroke-width="0.26" transform="translate(188.9 373.5) scale(0.95 1)">DC<tspan font-size="3.2" dy="0.5">reg</tspan></text>
<rect x="204.75" y="366.3" width="6.9" height="0" fill="#fff" stroke="#8a8a8a" stroke-width="0.7"/>
<circle cx="208.2" cy="363.8" r="1.25" fill="#000"/>
<rect x="212" y="324.97" width="7.6" height="41.33" fill="#000"/>
<line x1="215.8" y1="322.31" x2="215.8" y2="324.97" stroke="#8a8a8a" stroke-width="0.6"/>
<line x1="213.7" y1="322.31" x2="217.9" y2="322.31" stroke="#8a8a8a" stroke-width="0.7"/>
<circle cx="215.8" cy="319.81" r="1.25" fill="#000"/>
<text x="0" y="0" font-size="4.6" text-anchor="middle" fill="#000" stroke="#000" stroke-width="0.26" transform="translate(212 373.5) scale(0.95 1)">pDCs</text>
<text x="0" y="0" font-size="6" text-anchor="middle" fill="#000" stroke="#000" stroke-width="0.24" transform="translate(137.8 302.3) rotate(-90) scale(1 0.88)" dominant-baseline="central">Concentration (pg/ml)</text>
<text x="183.7" y="251.3" font-size="6.2" text-anchor="start" fill="#000" stroke="#000" stroke-width="0.25">IL-12p40</text>
<circle cx="184.6" cy="256.3" r="0.95" fill="#ddd" stroke="#aaa" stroke-width="0.4"/>
<text x="187.9" y="258" font-size="4.6" text-anchor="start" fill="#000" stroke="#000" stroke-width="0.16">None</text>
<rect x="183.6" y="261.1" width="2" height="2" fill="#000"/>
<text x="187.9" y="263.8" font-size="4.6" text-anchor="start" fill="#000" stroke="#000" stroke-width="0.16">CpG ODN</text>
<line x1="254.5" y1="233.4" x2="254.5" y2="366.4" stroke="#8a8a8a" stroke-width="0.8"/>
<line x1="254.5" y1="366.4" x2="322" y2="366.4" stroke="#8a8a8a" stroke-width="0.8"/>
<line x1="253.3" y1="366.4" x2="254.5" y2="366.4" stroke="#8a8a8a" stroke-width="0.6"/>
<text x="252.9" y="369.1" font-size="4.3" text-anchor="end" fill="#000" stroke="#000" stroke-width="0.32">0</text>
<line x1="253.3" y1="339.8" x2="254.5" y2="339.8" stroke="#8a8a8a" stroke-width="0.6"/>
<text x="252.9" y="342.5" font-size="4.3" text-anchor="end" fill="#000" stroke="#000" stroke-width="0.32">300</text>
<line x1="253.3" y1="313.2" x2="254.5" y2="313.2" stroke="#8a8a8a" stroke-width="0.6"/>
<text x="252.9" y="315.9" font-size="4.3" text-anchor="end" fill="#000" stroke="#000" stroke-width="0.32">600</text>
<line x1="253.3" y1="286.6" x2="254.5" y2="286.6" stroke="#8a8a8a" stroke-width="0.6"/>
<text x="252.9" y="289.3" font-size="4.3" text-anchor="end" fill="#000" stroke="#000" stroke-width="0.32">900</text>
<line x1="253.3" y1="260" x2="254.5" y2="260" stroke="#8a8a8a" stroke-width="0.6"/>
<text x="252.9" y="262.7" font-size="4.3" text-anchor="end" fill="#000" stroke="#000" stroke-width="0.32">1200</text>
<line x1="253.3" y1="233.4" x2="254.5" y2="233.4" stroke="#8a8a8a" stroke-width="0.6"/>
<text x="252.9" y="236.1" font-size="4.3" text-anchor="end" fill="#000" stroke="#000" stroke-width="0.32">1500</text>
<rect x="258.25" y="366.4" width="7.2" height="0" fill="#fff" stroke="#8a8a8a" stroke-width="0.7"/>
<rect x="265.8" y="333.33" width="7.9" height="33.07" fill="#000"/>
<line x1="269.75" y1="330.67" x2="269.75" y2="333.33" stroke="#8a8a8a" stroke-width="0.6"/>
<line x1="267.65" y1="330.67" x2="271.85" y2="330.67" stroke="#8a8a8a" stroke-width="0.7"/>
<text x="0" y="0" font-size="4.6" text-anchor="middle" fill="#000" stroke="#000" stroke-width="0.26" transform="translate(265.8 373.5) scale(0.95 1)">mDCs</text>
<rect x="281.45" y="366.4" width="7.2" height="0" fill="#fff" stroke="#8a8a8a" stroke-width="0.7"/>
<rect x="289" y="268.42" width="7.9" height="97.98" fill="#000"/>
<line x1="292.95" y1="260.09" x2="292.95" y2="268.42" stroke="#8a8a8a" stroke-width="0.6"/>
<line x1="290.85" y1="260.09" x2="295.05" y2="260.09" stroke="#8a8a8a" stroke-width="0.7"/>
<circle cx="292.95" cy="257.59" r="1.25" fill="#000"/>
<text x="0" y="0" font-size="4.6" text-anchor="middle" fill="#000" stroke="#000" stroke-width="0.26" transform="translate(289 373.5) scale(0.95 1)">DC<tspan font-size="3.2" dy="0.5">reg</tspan></text>
<rect x="304.65" y="366.4" width="7.2" height="0" fill="#fff" stroke="#8a8a8a" stroke-width="0.7"/>
<rect x="312.2" y="327.3" width="7.9" height="39.1" fill="#000"/>
<line x1="316.15" y1="325.52" x2="316.15" y2="327.3" stroke="#8a8a8a" stroke-width="0.6"/>
<line x1="314.05" y1="325.52" x2="318.25" y2="325.52" stroke="#8a8a8a" stroke-width="0.7"/>
<text x="0" y="0" font-size="4.6" text-anchor="middle" fill="#000" stroke="#000" stroke-width="0.26" transform="translate(312.2 373.5) scale(0.95 1)">pDCs</text>
<text x="0" y="0" font-size="6" text-anchor="middle" fill="#000" stroke="#000" stroke-width="0.24" transform="translate(237.5 302.3) rotate(-90) scale(1 0.88)" dominant-baseline="central">Concentration (pg/ml)</text>
<text x="262.7" y="251.3" font-size="6.2" text-anchor="start" fill="#000" stroke="#000" stroke-width="0.25">IL-10</text>
<circle cx="263.3" cy="256.4" r="0.95" fill="#ddd" stroke="#aaa" stroke-width="0.4"/>
<text x="266.6" y="258.1" font-size="4.6" text-anchor="start" fill="#000" stroke="#000" stroke-width="0.16">None</text>
<rect x="262.3" y="261.3" width="2" height="2" fill="#000"/>
<text x="266.6" y="264" font-size="4.6" text-anchor="start" fill="#000" stroke="#000" stroke-width="0.16">CpG ODN</text>
<line x1="354.6" y1="233.4" x2="354.6" y2="366.6" stroke="#8a8a8a" stroke-width="0.8"/>
<line x1="354.6" y1="366.6" x2="424" y2="366.6" stroke="#8a8a8a" stroke-width="0.8"/>
<line x1="353.4" y1="366.6" x2="354.6" y2="366.6" stroke="#8a8a8a" stroke-width="0.6"/>
<text x="353" y="369.3" font-size="4.3" text-anchor="end" fill="#000" stroke="#000" stroke-width="0.32">0</text>
<line x1="353.4" y1="339.96" x2="354.6" y2="339.96" stroke="#8a8a8a" stroke-width="0.6"/>
<text x="353" y="342.66" font-size="4.3" text-anchor="end" fill="#000" stroke="#000" stroke-width="0.32">2000</text>
<line x1="353.4" y1="313.32" x2="354.6" y2="313.32" stroke="#8a8a8a" stroke-width="0.6"/>
<text x="353" y="316.02" font-size="4.3" text-anchor="end" fill="#000" stroke="#000" stroke-width="0.32">4000</text>
<line x1="353.4" y1="286.68" x2="354.6" y2="286.68" stroke="#8a8a8a" stroke-width="0.6"/>
<text x="353" y="289.38" font-size="4.3" text-anchor="end" fill="#000" stroke="#000" stroke-width="0.32">6000</text>
<line x1="353.4" y1="260.04" x2="354.6" y2="260.04" stroke="#8a8a8a" stroke-width="0.6"/>
<text x="353" y="262.74" font-size="4.3" text-anchor="end" fill="#000" stroke="#000" stroke-width="0.32">8000</text>
<line x1="353.4" y1="233.4" x2="354.6" y2="233.4" stroke="#8a8a8a" stroke-width="0.6"/>
<text x="353" y="236.1" font-size="4.3" text-anchor="end" fill="#000" stroke="#000" stroke-width="0.32">10000</text>
<rect x="358.05" y="365.8" width="7.2" height="0.8" fill="#fff" stroke="#8a8a8a" stroke-width="0.7"/>
<rect x="365.6" y="365" width="7.9" height="1.6" fill="#000"/>
<text x="0" y="0" font-size="4.6" text-anchor="middle" fill="#000" stroke="#000" stroke-width="0.26" transform="translate(365.6 374.3) scale(0.95 1)">mDCs</text>
<rect x="381.35" y="366.2" width="7.2" height="0.4" fill="#fff" stroke="#8a8a8a" stroke-width="0.7"/>
<rect x="388.9" y="365.8" width="7.9" height="0.8" fill="#000"/>
<text x="0" y="0" font-size="4.6" text-anchor="middle" fill="#000" stroke="#000" stroke-width="0.26" transform="translate(388.9 374.3) scale(0.95 1)">DC<tspan font-size="3.2" dy="0.5">reg</tspan></text>
<rect x="404.65" y="365.53" width="7.2" height="1.07" fill="#fff" stroke="#8a8a8a" stroke-width="0.7"/>
<rect x="412.2" y="243.03" width="7.9" height="123.57" fill="#000"/>
<line x1="416.15" y1="240.37" x2="416.15" y2="243.03" stroke="#8a8a8a" stroke-width="0.6"/>
<line x1="414.05" y1="240.37" x2="418.25" y2="240.37" stroke="#8a8a8a" stroke-width="0.7"/>
<circle cx="416.15" cy="237.87" r="1.25" fill="#000"/>
<text x="0" y="0" font-size="4.6" text-anchor="middle" fill="#000" stroke="#000" stroke-width="0.26" transform="translate(412.2 374.3) scale(0.95 1)">pDCs</text>
<text x="0" y="0" font-size="6" text-anchor="middle" fill="#000" stroke="#000" stroke-width="0.24" transform="translate(338.2 302.3) rotate(-90) scale(1 0.88)" dominant-baseline="central">Concentration (pg/ml)</text>
<text x="377.1" y="251.3" font-size="6.2" text-anchor="start" fill="#000" stroke="#000" stroke-width="0.25">IFN-&#945;</text>
<circle cx="377.8" cy="256.6" r="0.95" fill="#ddd" stroke="#aaa" stroke-width="0.4"/>
<text x="381.1" y="258.3" font-size="4.6" text-anchor="start" fill="#000" stroke="#000" stroke-width="0.16">None</text>
<rect x="376.8" y="261.4" width="2" height="2" fill="#000"/>
<text x="381.1" y="264.1" font-size="4.6" text-anchor="start" fill="#000" stroke="#000" stroke-width="0.16">CpG ODN</text>
</svg>
</body></html>
